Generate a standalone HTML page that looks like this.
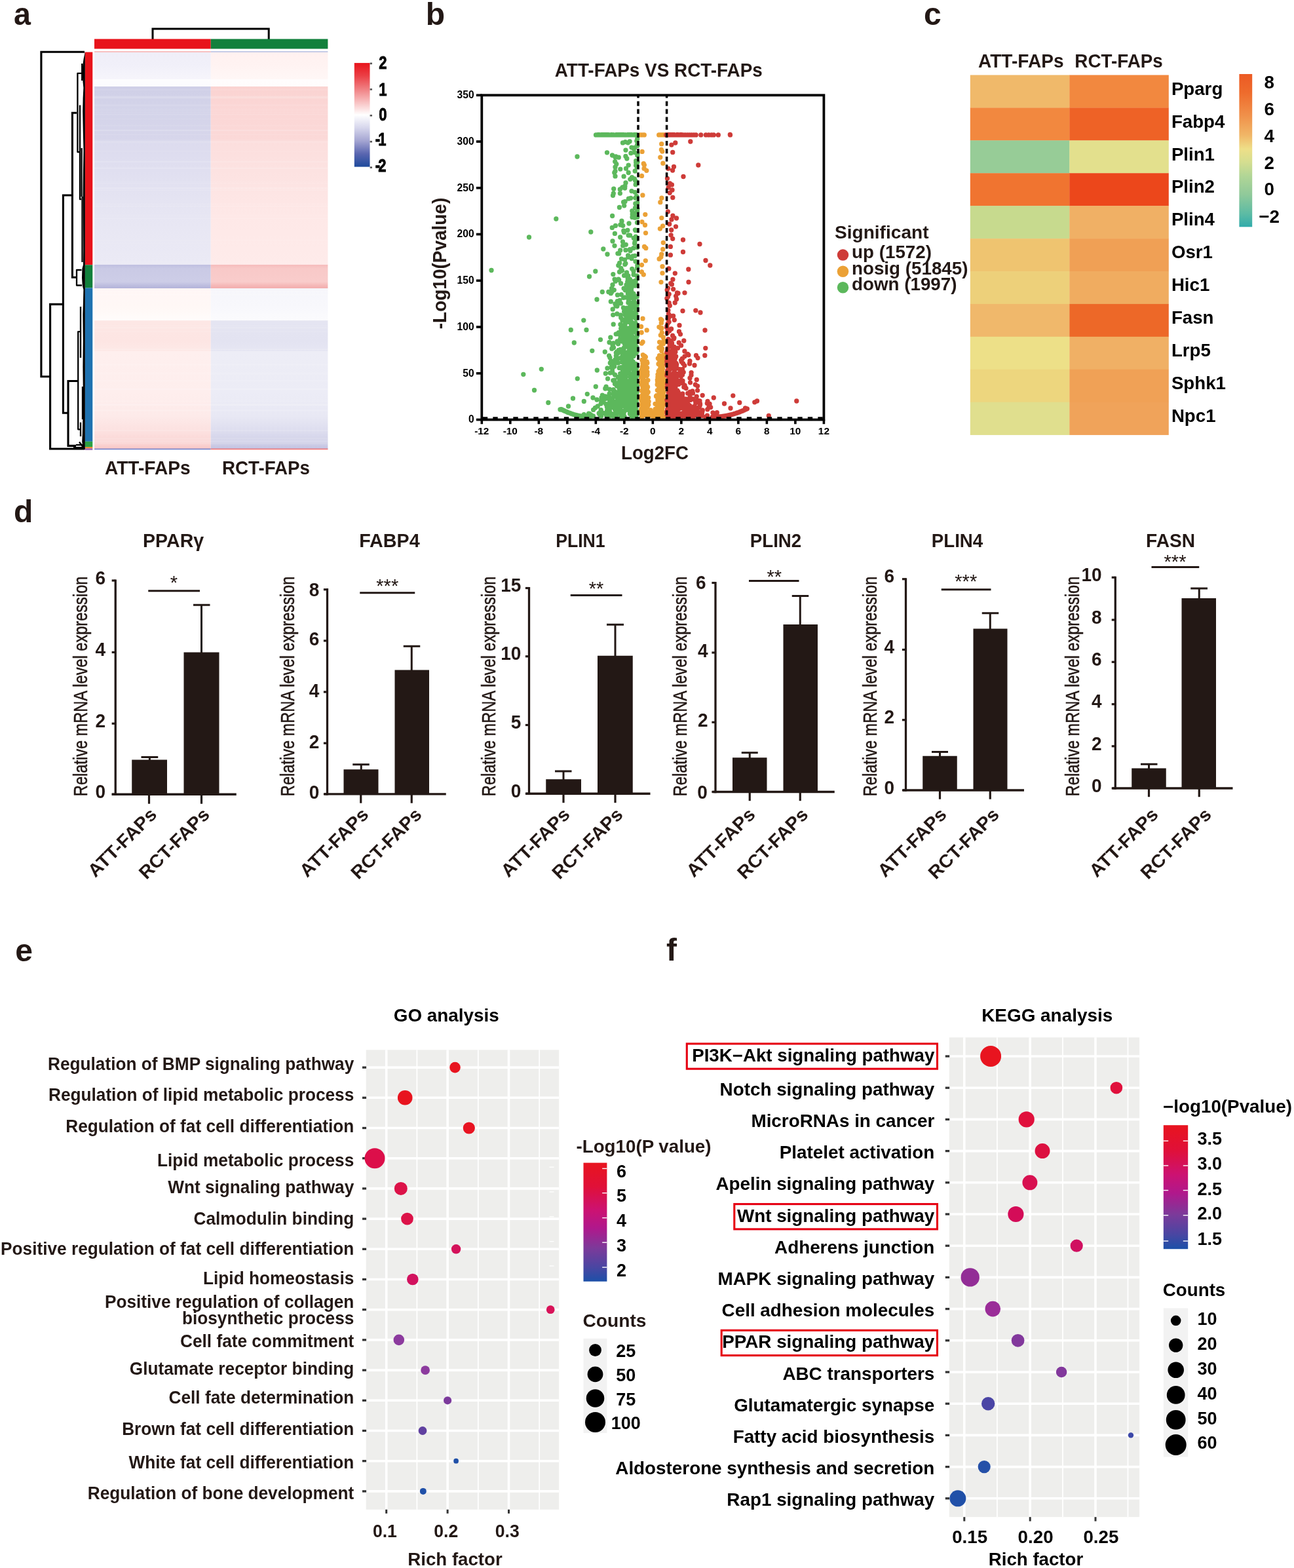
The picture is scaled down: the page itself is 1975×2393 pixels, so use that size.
<!DOCTYPE html>
<html lang="en"><head><meta charset="utf-8"><title>Figure</title>
<style>
html,body{margin:0;padding:0;background:#fff}
svg{display:block}
</style></head>
<body>
<svg width="1975" height="2393" viewBox="0 0 1975 2393" font-family="'Liberation Sans', sans-serif" font-weight="bold" fill="#231815" role="img" aria-label="Multi-panel figure: heat maps, volcano plot, qPCR bar charts, GO and KEGG enrichment bubble plots">
<defs><linearGradient id="ha" x1="0" y1="0" x2="0" y2="1"><stop offset="0.0000" stop-color="#efeef8"/><stop offset="0.0338" stop-color="#f1f0f9"/><stop offset="0.0680" stop-color="#f6f5fb"/><stop offset="0.0680" stop-color="#fdfdfe"/><stop offset="0.0868" stop-color="#fbfbfe"/><stop offset="0.0868" stop-color="#cfcfe7"/><stop offset="0.1328" stop-color="#d3d3e9"/><stop offset="0.2228" stop-color="#d7d6eb"/><stop offset="0.2244" stop-color="#dcdbee"/><stop offset="0.2979" stop-color="#e0dff0"/><stop offset="0.4134" stop-color="#e7e6f3"/><stop offset="0.5355" stop-color="#ebeaf5"/><stop offset="0.5355" stop-color="#bfbfe0"/><stop offset="0.5454" stop-color="#cacae5"/><stop offset="0.5784" stop-color="#cdcde7"/><stop offset="0.5883" stop-color="#bcbcde"/><stop offset="0.5941" stop-color="#b4b4da"/><stop offset="0.5941" stop-color="#fff6f5"/><stop offset="0.6444" stop-color="#fff8f6"/><stop offset="0.6757" stop-color="#fffcfb"/><stop offset="0.6757" stop-color="#fde7e5"/><stop offset="0.7269" stop-color="#fde5e3"/><stop offset="0.7533" stop-color="#fde9e7"/><stop offset="0.7533" stop-color="#feefee"/><stop offset="0.8589" stop-color="#feeeed"/><stop offset="0.9167" stop-color="#fdeae9"/><stop offset="0.9579" stop-color="#fce0df"/><stop offset="0.9876" stop-color="#fad3d2"/><stop offset="1.0000" stop-color="#f8c4c4"/></linearGradient><linearGradient id="hb" x1="0" y1="0" x2="0" y2="1"><stop offset="0.0000" stop-color="#fff1f0"/><stop offset="0.0338" stop-color="#fff3f2"/><stop offset="0.0680" stop-color="#fff7f6"/><stop offset="0.0680" stop-color="#fffdfd"/><stop offset="0.0868" stop-color="#fffcfc"/><stop offset="0.0868" stop-color="#fad3d1"/><stop offset="0.1328" stop-color="#fbd6d5"/><stop offset="0.2228" stop-color="#fbd9d8"/><stop offset="0.2244" stop-color="#fcdedd"/><stop offset="0.2979" stop-color="#fce2e1"/><stop offset="0.4134" stop-color="#fee8e7"/><stop offset="0.5355" stop-color="#feebea"/><stop offset="0.5355" stop-color="#f6bcbc"/><stop offset="0.5454" stop-color="#f8c9c8"/><stop offset="0.5784" stop-color="#f9cccb"/><stop offset="0.5883" stop-color="#f5b7b7"/><stop offset="0.5941" stop-color="#f3aeae"/><stop offset="0.5941" stop-color="#f6f6fb"/><stop offset="0.6444" stop-color="#f8f8fc"/><stop offset="0.6757" stop-color="#fbfbfd"/><stop offset="0.6757" stop-color="#e5e5f2"/><stop offset="0.7269" stop-color="#e3e3f1"/><stop offset="0.7533" stop-color="#e6e6f3"/><stop offset="0.7533" stop-color="#ededf6"/><stop offset="0.8589" stop-color="#ececf6"/><stop offset="0.9167" stop-color="#e8e8f4"/><stop offset="0.9579" stop-color="#dcdcee"/><stop offset="0.9876" stop-color="#cecee7"/><stop offset="1.0000" stop-color="#c0c0e0"/></linearGradient><linearGradient id="lega" x1="0" y1="0" x2="0" y2="1"><stop offset="0.0000" stop-color="#e8131b"/><stop offset="0.1250" stop-color="#eb4046"/><stop offset="0.2500" stop-color="#f07f82"/><stop offset="0.3750" stop-color="#f8bfc0"/><stop offset="0.5000" stop-color="#ffffff"/><stop offset="0.6250" stop-color="#d6d6ec"/><stop offset="0.7500" stop-color="#a4a5d2"/><stop offset="0.8750" stop-color="#5a66b0"/><stop offset="1.0000" stop-color="#1e4a9c"/></linearGradient><linearGradient id="legc" x1="0" y1="0" x2="0" y2="1"><stop offset="0.0000" stop-color="#ec5a24"/><stop offset="0.1200" stop-color="#ee6b2c"/><stop offset="0.2700" stop-color="#f0904a"/><stop offset="0.4000" stop-color="#f0b667"/><stop offset="0.4900" stop-color="#eedf88"/><stop offset="0.5750" stop-color="#d5de90"/><stop offset="0.6700" stop-color="#b0d596"/><stop offset="0.7900" stop-color="#8fc99a"/><stop offset="0.9150" stop-color="#5cbba4"/><stop offset="1.0000" stop-color="#30abab"/></linearGradient><linearGradient id="lege" x1="0" y1="0" x2="0" y2="1"><stop offset="0.0000" stop-color="#e8141f"/><stop offset="0.2000" stop-color="#e01038"/><stop offset="0.4000" stop-color="#cc1272"/><stop offset="0.5500" stop-color="#b0188c"/><stop offset="0.7200" stop-color="#7c3a9a"/><stop offset="0.8800" stop-color="#4a46a2"/><stop offset="1.0000" stop-color="#1c50a8"/></linearGradient><linearGradient id="legf" x1="0" y1="0" x2="0" y2="1"><stop offset="0.0000" stop-color="#e8141f"/><stop offset="0.2000" stop-color="#e01038"/><stop offset="0.4000" stop-color="#cc1272"/><stop offset="0.5500" stop-color="#b0188c"/><stop offset="0.7200" stop-color="#7c3a9a"/><stop offset="0.8800" stop-color="#4a46a2"/><stop offset="1.0000" stop-color="#1c50a8"/></linearGradient></defs>
<rect width="1975" height="2393" fill="#fff"/>
<g id="panel-a">
<text transform="translate(21.00 38.30) scale(0.96 1)" font-size="48.6">a</text>
<path d="M233 60V43.9H410.2V60" fill="none" stroke="#000" stroke-width="3"/>
<rect x="144.00" y="59.50" width="177.75" height="15.00" fill="#e8131b"/>
<rect x="321.75" y="59.50" width="178.65" height="15.00" fill="#12803c"/>
<rect x="144.00" y="79.50" width="177.75" height="606.00" fill="url(#ha)"/>
<rect x="321.75" y="79.50" width="178.65" height="606.00" fill="url(#hb)"/>
<rect x="144.00" y="78.30" width="177.75" height="1.30" fill="#f6a3a3"/>
<rect x="321.75" y="78.30" width="178.65" height="1.30" fill="#a9b3dc"/>
<rect x="144.00" y="684.60" width="177.75" height="1.60" fill="#6f80ca"/>
<rect x="321.75" y="684.60" width="178.65" height="1.60" fill="#f27474"/>
<rect x="144.00" y="310.81" width="356.40" height="1.30" fill="#ffffff" opacity="0.13"/>
<rect x="144.00" y="173.55" width="356.40" height="2.07" fill="#ffffff" opacity="0.10"/>
<rect x="144.00" y="165.67" width="356.40" height="2.01" fill="#ffffff" opacity="0.06"/>
<rect x="144.00" y="370.77" width="356.40" height="1.14" fill="#ffffff" opacity="0.07"/>
<rect x="144.00" y="365.79" width="356.40" height="2.65" fill="#ffffff" opacity="0.07"/>
<rect x="144.00" y="255.89" width="356.40" height="2.25" fill="#ffffff" opacity="0.15"/>
<rect x="144.00" y="449.10" width="356.40" height="1.79" fill="#ffffff" opacity="0.16"/>
<rect x="144.00" y="159.43" width="356.40" height="2.72" fill="#ffffff" opacity="0.09"/>
<rect x="144.00" y="212.76" width="356.40" height="1.24" fill="#ffffff" opacity="0.09"/>
<rect x="144.00" y="579.60" width="356.40" height="1.36" fill="#ffffff" opacity="0.12"/>
<rect x="144.00" y="482.85" width="356.40" height="1.74" fill="#ffffff" opacity="0.11"/>
<rect x="144.00" y="168.28" width="356.40" height="1.12" fill="#ffffff" opacity="0.08"/>
<rect x="144.00" y="505.50" width="356.40" height="1.86" fill="#ffffff" opacity="0.09"/>
<rect x="144.00" y="453.72" width="356.40" height="1.91" fill="#ffffff" opacity="0.09"/>
<rect x="144.00" y="567.73" width="356.40" height="2.40" fill="#ffffff" opacity="0.08"/>
<rect x="144.00" y="447.64" width="356.40" height="2.05" fill="#ffffff" opacity="0.15"/>
<rect x="144.00" y="532.28" width="356.40" height="1.58" fill="#ffffff" opacity="0.16"/>
<rect x="144.00" y="198.46" width="356.40" height="1.84" fill="#ffffff" opacity="0.14"/>
<rect x="144.00" y="216.98" width="356.40" height="1.98" fill="#ffffff" opacity="0.06"/>
<rect x="144.00" y="498.85" width="356.40" height="2.53" fill="#ffffff" opacity="0.12"/>
<rect x="144.00" y="612.01" width="356.40" height="1.63" fill="#ffffff" opacity="0.13"/>
<rect x="144.00" y="458.53" width="356.40" height="2.16" fill="#ffffff" opacity="0.11"/>
<rect x="144.00" y="592.62" width="356.40" height="2.89" fill="#ffffff" opacity="0.11"/>
<rect x="144.00" y="496.63" width="356.40" height="1.12" fill="#ffffff" opacity="0.13"/>
<rect x="144.00" y="487.33" width="356.40" height="2.99" fill="#ffffff" opacity="0.14"/>
<rect x="144.00" y="289.39" width="356.40" height="1.77" fill="#ffffff" opacity="0.13"/>
<rect x="144.00" y="146.32" width="356.40" height="1.92" fill="#ffffff" opacity="0.08"/>
<rect x="144.00" y="197.93" width="356.40" height="1.12" fill="#ffffff" opacity="0.14"/>
<rect x="144.00" y="204.62" width="356.40" height="1.50" fill="#ffffff" opacity="0.10"/>
<rect x="144.00" y="609.80" width="356.40" height="1.16" fill="#ffffff" opacity="0.10"/>
<rect x="144.00" y="616.33" width="356.40" height="2.64" fill="#ffffff" opacity="0.15"/>
<rect x="144.00" y="286.02" width="356.40" height="1.83" fill="#ffffff" opacity="0.10"/>
<rect x="144.00" y="616.77" width="356.40" height="2.92" fill="#ffffff" opacity="0.08"/>
<rect x="144.00" y="230.21" width="356.40" height="1.46" fill="#ffffff" opacity="0.08"/>
<rect x="144.00" y="398.79" width="356.40" height="2.18" fill="#ffffff" opacity="0.09"/>
<rect x="144.00" y="136.24" width="356.40" height="1.84" fill="#ffffff" opacity="0.10"/>
<rect x="144.00" y="443.22" width="356.40" height="2.91" fill="#ffffff" opacity="0.13"/>
<rect x="144.00" y="471.21" width="356.40" height="2.35" fill="#ffffff" opacity="0.07"/>
<rect x="144.00" y="625.15" width="356.40" height="2.56" fill="#ffffff" opacity="0.15"/>
<rect x="144.00" y="569.64" width="356.40" height="1.78" fill="#ffffff" opacity="0.10"/>
<rect x="144.00" y="190.53" width="356.40" height="2.27" fill="#ffffff" opacity="0.07"/>
<rect x="144.00" y="170.77" width="356.40" height="1.42" fill="#ffffff" opacity="0.08"/>
<rect x="144.00" y="319.67" width="356.40" height="1.11" fill="#ffffff" opacity="0.06"/>
<rect x="144.00" y="216.59" width="356.40" height="1.20" fill="#ffffff" opacity="0.10"/>
<rect x="144.00" y="147.92" width="356.40" height="2.75" fill="#ffffff" opacity="0.12"/>
<rect x="144.00" y="215.11" width="356.40" height="1.50" fill="#ffffff" opacity="0.09"/>
<rect x="144.00" y="332.83" width="356.40" height="1.25" fill="#ffffff" opacity="0.14"/>
<rect x="144.00" y="676.23" width="356.40" height="1.93" fill="#ffffff" opacity="0.11"/>
<rect x="144.00" y="180.89" width="356.40" height="1.20" fill="#ffffff" opacity="0.09"/>
<rect x="144.00" y="278.56" width="356.40" height="2.66" fill="#ffffff" opacity="0.08"/>
<rect x="144.00" y="146.61" width="356.40" height="2.90" fill="#ffffff" opacity="0.11"/>
<rect x="144.00" y="214.04" width="356.40" height="2.09" fill="#ffffff" opacity="0.06"/>
<rect x="144.00" y="668.26" width="356.40" height="2.73" fill="#ffffff" opacity="0.13"/>
<rect x="144.00" y="276.57" width="356.40" height="1.73" fill="#ffffff" opacity="0.08"/>
<rect x="144.00" y="555.48" width="356.40" height="2.07" fill="#ffffff" opacity="0.14"/>
<rect x="144.00" y="314.00" width="356.40" height="1.45" fill="#ffffff" opacity="0.14"/>
<rect x="144.00" y="671.77" width="356.40" height="2.71" fill="#ffffff" opacity="0.14"/>
<rect x="144.00" y="580.81" width="356.40" height="2.48" fill="#ffffff" opacity="0.08"/>
<rect x="144.00" y="328.14" width="356.40" height="1.06" fill="#ffffff" opacity="0.06"/>
<rect x="144.00" y="286.56" width="356.40" height="1.52" fill="#ffffff" opacity="0.13"/>
<rect x="144.00" y="656.26" width="356.40" height="1.89" fill="#ffffff" opacity="0.15"/>
<rect x="144.00" y="673.47" width="356.40" height="2.91" fill="#ffffff" opacity="0.10"/>
<rect x="144.00" y="254.37" width="356.40" height="1.45" fill="#ffffff" opacity="0.08"/>
<rect x="144.00" y="245.59" width="356.40" height="2.25" fill="#ffffff" opacity="0.15"/>
<rect x="144.00" y="592.88" width="356.40" height="1.96" fill="#ffffff" opacity="0.13"/>
<rect x="144.00" y="570.61" width="356.40" height="1.17" fill="#ffffff" opacity="0.13"/>
<rect x="129.60" y="79.50" width="11.70" height="324.80" fill="#e8131b"/>
<rect x="129.60" y="404.30" width="11.70" height="35.20" fill="#12803c"/>
<rect x="129.60" y="439.50" width="11.70" height="234.30" fill="#1f72b0"/>
<rect x="129.60" y="673.80" width="11.70" height="8.40" fill="#2ca043"/>
<rect x="129.60" y="682.20" width="11.70" height="2.10" fill="#f08020"/>
<rect x="129.60" y="684.30" width="11.70" height="2.50" fill="#9a62b0"/>
<g fill="none" stroke="#000" stroke-width="3.1" stroke-linejoin="miter">
<path d="M129 79.2H62.9V574.7H76.6"/>
<path d="M96.4 464.4H76.6V685H129"/>
<path d="M110.4 298H96.4V630.2H104"/>
<path d="M117 172.2H110.4V423.3H117"/>
<path d="M118.4 581.5H104V680.4H116"/>
</g>
<g fill="none" stroke="#000" stroke-width="2.3" stroke-linejoin="round">
<path d="M124.5 111.8H118.4V232H121.5"/>
<path d="M122 160.5V304.2H124"/>
<path d="M124.5 412H117V435.5H125"/>
<path d="M123 506.2H119.2V655.3H123"/>
<path d="M123 468V546"/>
<path d="M123 644.6V666"/>
<path d="M125.2 97V123"/>
<path d="M124.6 226V300"/>
<path d="M125.5 300V400"/>
<path d="M126 590V640"/>
<path d="M112 683H128"/>
<path d="M116 679H127"/>
<path d="M121 674.5L128 684"/>
</g>
<path d="M129.8 79 L127.6 90 126.2 100 125.6 112 126.4 124 127.4 134 126.6 150 126.2 170 126.8 200 127.5 230 127 260 126.6 300 127 340 127.2 380 127 404 125.4 410 125 424 125.8 436 127.4 442 127 460 126.4 480 126.8 520 126.4 560 126.8 600 126.3 640 125.8 662 125.2 674 126.4 682 129.8 686.5 Z" fill="#000"/>
<rect x="540.80" y="96.10" width="23.70" height="158.50" fill="url(#lega)"/>
<line x1="564.60" y1="96.90" x2="568.00" y2="96.90" stroke="#595757" stroke-width="2.6"/>
<text transform="translate(578.20 105.40) scale(0.78 1)" font-size="28.2" fill="#000" stroke="#000" stroke-width="0.9">2</text>
<line x1="564.60" y1="136.40" x2="568.00" y2="136.40" stroke="#595757" stroke-width="2.6"/>
<text transform="translate(578.20 145.60) scale(0.78 1)" font-size="28.2" fill="#000" stroke="#000" stroke-width="0.9">1</text>
<line x1="564.60" y1="176.30" x2="568.00" y2="176.30" stroke="#595757" stroke-width="2.6"/>
<text transform="translate(578.20 184.00) scale(0.78 1)" font-size="28.2" fill="#000" stroke="#000" stroke-width="0.9">0</text>
<line x1="564.60" y1="216.20" x2="568.00" y2="216.20" stroke="#595757" stroke-width="2.6"/>
<text transform="translate(572.70 222.30) scale(0.78 1)" font-size="28.2" fill="#000" stroke="#000" stroke-width="0.9">-<tspan dx="-3.6">1</tspan></text>
<line x1="564.60" y1="255.60" x2="568.00" y2="255.60" stroke="#595757" stroke-width="2.6"/>
<text transform="translate(572.70 261.60) scale(0.78 1)" font-size="28.2" fill="#000" stroke="#000" stroke-width="0.9">-<tspan dx="-3.6">2</tspan></text>
<text x="160.00" y="723.90" font-size="29.3" textLength="130.50" lengthAdjust="spacingAndGlyphs">ATT-FAPs</text>
<text x="339.00" y="723.90" font-size="29.3" textLength="134.00" lengthAdjust="spacingAndGlyphs">RCT-FAPs</text>
</g>
<g id="panel-b">
<text x="649.70" y="37.60" font-size="48">b</text>
<text x="1005.30" y="117.00" font-size="28.6" text-anchor="middle" textLength="317.00" lengthAdjust="spacingAndGlyphs">ATT-FAPs VS RCT-FAPs</text>
<path d="M986.3 633.5h0M992.1 634.1h0M983.5 633.7h0M979.7 635.1h0M992.1 633.7h0M980.1 636.0h0M982.5 632.9h0M979.7 633.3h0M994.3 633.9h0M984.7 633.3h0M990.5 628.9h0M991.8 630.4h0M984.6 630.8h0M992.4 631.7h0M985.6 629.2h0M980.2 629.3h0M994.2 628.9h0M984.9 632.3h0M981.7 628.5h0M979.2 630.6h0M978.6 624.9h0M979.5 625.9h0M981.9 628.2h0M979.1 627.1h0M982.9 626.7h0M983.4 627.2h0M993.0 627.4h0M992.9 626.0h0M980.2 625.6h0M980.2 621.3h0M988.4 620.1h0M986.2 622.8h0M979.7 622.6h0M983.6 623.2h0M984.5 620.5h0M980.1 621.6h0M984.1 622.7h0M986.6 621.1h0M984.1 619.6h0M986.7 618.3h0M980.9 619.8h0M989.7 617.8h0M980.0 616.0h0M979.4 617.9h0M981.6 619.5h0M980.1 618.5h0M988.9 613.4h0M990.1 612.8h0M985.6 614.2h0M987.8 612.7h0M982.1 611.7h0M980.4 614.9h0M986.8 612.7h0M979.9 612.2h0M979.0 611.3h0M980.7 609.5h0M982.4 610.0h0M987.5 607.3h0M980.7 610.0h0M978.7 609.4h0M981.3 609.3h0M989.1 607.0h0M979.2 604.4h0M989.7 606.8h0M979.0 606.7h0M985.7 603.3h0M985.1 606.6h0M980.9 606.5h0M981.7 600.5h0M988.1 599.9h0M982.5 601.1h0M984.5 601.9h0M982.7 598.9h0M981.4 600.5h0M985.1 602.5h0M979.1 596.3h0M986.0 597.0h0M989.3 598.3h0M987.4 594.7h0M981.3 597.4h0M982.8 598.4h0M983.7 597.9h0M982.9 593.3h0M983.1 591.3h0M988.6 590.5h0M981.5 590.4h0M986.1 591.3h0M980.8 590.5h0M985.6 587.9h0M979.4 586.9h0M985.7 588.1h0M981.8 586.7h0M985.6 588.9h0M985.1 588.1h0M981.0 587.4h0M986.9 585.8h0M978.7 584.9h0M980.6 585.7h0M984.8 586.0h0M978.6 584.3h0M980.9 585.1h0M982.3 580.2h0M986.9 581.2h0M988.2 580.6h0M981.8 577.9h0M980.0 579.3h0M988.9 580.3h0M979.0 574.1h0M980.2 576.2h0M982.0 574.6h0M987.0 573.6h0M978.6 575.7h0M987.3 573.5h0M979.3 570.4h0M984.7 569.9h0M986.6 569.7h0M984.8 569.9h0M983.1 569.4h0M988.0 572.0h0M981.3 566.0h0M981.1 567.0h0M979.7 567.4h0M978.7 565.8h0M987.9 567.7h0M980.2 565.1h0M982.9 560.8h0M987.7 561.3h0M986.7 561.1h0M980.0 562.7h0M980.1 560.8h0M985.5 563.7h0M986.1 560.2h0M982.9 558.4h0M981.2 560.0h0M984.4 556.4h0M980.5 559.3h0M984.0 552.9h0M982.0 552.2h0M980.9 554.9h0M982.1 552.8h0M987.9 554.0h0M982.6 548.0h0M979.8 549.4h0M984.6 551.3h0M981.5 550.5h0M987.2 551.8h0M984.1 549.8h0M985.4 544.8h0M981.3 541.7h0M983.9 543.3h0M979.4 524.0h0M981.1 522.0h0M979.1 507.5h0M987.2 503.9h0M978.6 498.5h0M981.0 486.2h0M982.3 419.1h0M979.4 414.9h0M979.5 404.3h0M985.3 397.8h0M985.8 378.7h0M983.5 376.4h0M985.5 355.6h0M984.5 343.5h0M979.9 338.6h0M984.8 327.3h0M980.9 297.9h0M979.5 268.4h0M986.8 260.3h0M983.1 257.2h0M983.4 251.8h0M982.3 249.7h0M980.1 231.4h0M999.4 636.8h0M996.9 636.1h0M1004.8 636.5h0M1010.4 633.9h0M1010.5 633.6h0M1006.5 636.3h0M999.6 634.0h0M1003.2 633.1h0M1012.8 636.1h0M1004.0 636.4h0M1008.2 635.9h0M996.5 630.1h0M1006.8 632.7h0M1004.6 628.7h0M997.8 629.5h0M1011.6 629.0h0M1012.3 629.0h0M1003.2 630.8h0M1008.6 631.6h0M1005.9 631.0h0M1003.3 631.0h0M1006.0 624.3h0M1000.1 624.4h0M1002.3 627.3h0M1010.5 626.2h0M1004.9 626.3h0M1008.1 625.1h0M1000.7 627.5h0M1010.4 628.5h0M1002.4 624.4h0M1010.1 620.5h0M1003.2 620.4h0M1011.1 622.4h0M1010.5 622.5h0M1010.5 624.2h0M1008.3 624.1h0M1009.6 622.1h0M1006.6 621.0h0M1012.1 619.0h0M1008.9 615.9h0M1004.4 616.3h0M1008.5 616.6h0M1003.9 619.6h0M1000.0 616.3h0M1001.0 616.1h0M1000.6 616.4h0M1008.2 612.1h0M1005.7 613.8h0M1012.9 613.3h0M1011.4 615.2h0M1011.1 612.2h0M1004.7 613.9h0M1009.4 613.5h0M1005.4 608.8h0M1012.3 610.7h0M1004.4 610.8h0M1010.3 609.7h0M1010.9 608.2h0M1007.0 609.1h0M1007.3 608.9h0M1003.8 610.2h0M1011.1 605.0h0M1002.2 603.6h0M1001.5 604.7h0M1004.2 606.5h0M1012.8 604.3h0M1004.9 606.3h0M1011.9 603.2h0M1012.5 599.2h0M1008.7 600.9h0M1009.9 600.2h0M1005.4 602.3h0M1005.2 602.4h0M1008.4 600.1h0M1010.4 601.4h0M1005.6 595.4h0M1004.9 596.2h0M1013.0 598.5h0M1010.9 595.1h0M1012.2 597.0h0M1003.3 595.6h0M1010.6 598.0h0M1006.5 594.3h0M1006.5 592.8h0M1008.8 591.6h0M1005.7 592.3h0M1012.7 591.6h0M1009.0 590.4h0M1010.0 594.3h0M1010.6 587.5h0M1003.2 587.0h0M1009.6 587.8h0M1007.2 586.1h0M1005.4 588.9h0M1010.8 588.7h0M1007.9 583.3h0M1012.9 584.6h0M1003.6 582.6h0M1012.7 582.2h0M1013.0 584.9h0M1004.1 582.5h0M1003.3 579.8h0M1005.3 577.9h0M1010.4 581.1h0M1004.3 578.8h0M1008.5 580.1h0M1009.3 581.1h0M1007.8 576.3h0M1003.9 575.6h0M1012.8 577.0h0M1005.5 577.4h0M1008.7 577.0h0M1005.2 575.4h0M1012.3 572.5h0M1011.5 572.1h0M1006.4 572.9h0M1004.3 572.6h0M1004.0 571.7h0M1010.3 571.7h0M1011.5 567.9h0M1008.8 564.9h0M1007.6 565.6h0M1005.0 566.7h0M1008.3 568.7h0M1008.7 564.9h0M1010.7 563.2h0M1006.6 564.5h0M1008.7 562.7h0M1010.3 563.1h0M1011.6 562.6h0M1011.3 559.1h0M1007.9 559.7h0M1011.0 559.5h0M1008.8 558.6h0M1008.6 560.4h0M1008.3 560.1h0M1008.4 554.0h0M1009.0 553.3h0M1010.4 556.0h0M1008.5 554.5h0M1005.0 555.5h0M1008.8 555.7h0M1007.9 550.4h0M1006.8 550.5h0M1012.6 551.0h0M1012.0 550.0h0M1011.4 548.0h0M1012.0 546.4h0M1012.9 544.0h0M1004.3 546.8h0M1012.9 544.4h0M1006.2 547.4h0M1005.1 547.4h0M1006.5 542.7h0M1012.7 541.7h0M1009.8 535.5h0M1010.5 531.8h0M1010.1 533.5h0M1008.2 529.2h0M1005.9 530.6h0M1012.3 524.7h0M1012.1 523.0h0M1013.1 520.0h0M1006.6 522.1h0M1012.3 514.7h0M1008.3 511.6h0M1010.3 507.6h0M1009.1 501.3h0M1010.0 500.7h0M1005.9 499.1h0M1009.3 492.9h0M1010.1 488.6h0M1008.5 487.2h0M1009.0 430.6h0M1011.0 416.8h0M1011.0 406.7h0M1006.1 395.2h0M1008.9 392.3h0M1009.7 387.9h0M1011.7 380.4h0M1012.3 370.3h0M1007.4 349.1h0M1011.6 344.8h0M1009.8 332.6h0M1007.8 308.7h0M1009.9 302.2h0M1011.9 249.2h0M1007.8 240.1h0M1010.8 231.1h0M1009.4 228.4h0M1009.7 219.7h0M977.2 205.9h0M979.4 205.9h0M981.6 205.9h0M983.3 205.9h0M1005.7 205.9h0M1007.2 205.9h0M1008.9 205.9h0M1010.7 205.9h0M1012.4 205.9h0M1014.2 205.9h0" fill="none" stroke="#eba136" stroke-width="7.3" stroke-linecap="round"/>
<path d="M948.5 205.9h0M933.6 205.9h0M951.6 205.9h0M921.8 205.9h0M950.7 205.9h0M933.2 205.9h0M936.4 205.9h0M941.2 205.9h0M918.6 205.9h0M946.7 205.9h0M912.2 205.9h0M963.1 205.9h0M946.9 205.9h0M923.9 205.9h0M954.4 205.9h0M948.1 205.9h0M925.6 205.9h0M967.6 205.9h0M918.1 205.9h0M936.8 205.9h0M960.9 205.9h0M968.6 205.9h0M948.1 205.9h0M942.0 205.9h0M911.3 205.9h0M922.2 205.9h0M962.6 205.9h0M958.6 205.9h0M915.2 205.9h0M956.9 205.9h0M957.9 205.9h0M970.2 205.9h0M971.4 205.9h0M958.1 205.9h0M949.3 205.9h0M926.0 205.9h0M940.6 205.9h0M933.8 205.9h0M939.9 205.9h0M920.3 205.9h0M956.9 205.9h0M929.1 205.9h0M947.2 205.9h0M946.4 205.9h0M920.5 205.9h0M966.7 205.9h0M964.1 205.9h0M954.6 205.9h0M952.1 205.9h0M917.1 205.9h0M942.8 205.9h0M968.5 205.9h0M909.5 205.9h0M915.1 205.9h0M963.9 205.9h0M922.3 205.9h0M971.9 205.9h0M948.4 205.9h0M961.4 205.9h0M926.4 205.9h0M969.5 205.9h0M913.2 205.9h0M959.5 205.9h0M933.3 205.9h0M926.9 205.9h0M970.7 205.9h0M945.2 205.9h0M964.6 205.9h0M944.4 205.9h0M949.8 205.9h0M968.8 205.9h0M943.2 205.9h0M919.3 205.9h0M960.9 205.9h0M920.2 205.9h0M940.4 205.9h0M913.7 205.9h0M921.3 205.9h0M960.6 205.9h0M926.8 205.9h0M951.8 205.9h0M918.3 205.9h0M934.8 205.9h0M931.3 205.9h0M917.8 205.9h0M913.7 205.9h0M923.6 205.9h0M964.0 205.9h0M944.6 205.9h0M923.8 205.9h0M949.9 205.9h0M929.2 205.9h0M913.8 205.9h0M921.4 205.9h0M927.7 205.9h0M952.1 634.1h0M970.1 632.4h0M969.6 634.0h0M949.9 635.8h0M965.2 635.5h0M947.9 636.0h0M970.9 634.3h0M953.0 635.6h0M939.7 635.6h0M939.0 632.5h0M969.8 633.9h0M963.9 632.8h0M964.6 635.9h0M970.3 635.5h0M941.2 632.9h0M950.8 632.5h0M968.5 628.3h0M947.1 628.5h0M966.9 628.8h0M963.1 632.2h0M952.2 629.8h0M972.3 632.1h0M948.3 631.5h0M962.0 631.9h0M971.7 629.5h0M972.2 630.3h0M970.2 631.8h0M961.4 631.4h0M943.0 628.5h0M951.1 630.5h0M962.1 631.1h0M961.9 631.4h0M964.3 626.9h0M969.1 625.7h0M967.5 625.4h0M953.2 626.9h0M963.2 627.3h0M959.6 624.0h0M947.1 624.4h0M971.0 624.9h0M945.6 625.7h0M944.5 623.9h0M961.4 627.7h0M967.2 625.2h0M954.2 625.8h0M955.3 625.7h0M943.2 624.6h0M945.4 622.2h0M958.1 620.9h0M968.4 623.2h0M964.2 623.4h0M961.2 619.9h0M966.4 619.8h0M960.7 622.9h0M944.0 621.7h0M969.0 622.4h0M953.3 619.9h0M961.6 623.7h0M960.9 621.5h0M946.7 621.4h0M962.0 619.7h0M959.7 619.6h0M953.5 619.0h0M970.1 618.0h0M965.8 619.1h0M969.1 617.7h0M955.9 616.4h0M943.7 616.7h0M953.9 618.0h0M964.3 618.2h0M964.8 618.8h0M947.4 616.8h0M949.4 617.3h0M970.6 619.4h0M949.2 619.3h0M941.7 619.1h0M969.6 611.8h0M971.1 611.2h0M964.6 612.4h0M968.0 614.0h0M957.4 611.8h0M949.9 614.6h0M948.2 611.6h0M967.8 613.4h0M971.2 614.0h0M958.2 613.7h0M947.3 611.5h0M952.4 615.1h0M967.3 612.7h0M961.8 612.2h0M943.1 610.2h0M945.8 610.3h0M961.7 609.4h0M958.7 609.9h0M963.1 609.7h0M969.7 611.0h0M952.4 609.7h0M964.2 610.5h0M970.3 609.5h0M959.6 610.7h0M947.5 607.9h0M970.3 606.9h0M966.0 610.8h0M971.8 606.6h0M954.5 603.1h0M971.4 603.5h0M962.3 604.7h0M946.0 604.3h0M948.8 603.2h0M970.1 604.2h0M963.2 605.7h0M951.5 605.5h0M972.2 604.8h0M950.7 605.2h0M964.8 606.3h0M958.9 603.9h0M958.3 606.6h0M954.1 598.9h0M967.4 599.4h0M969.3 600.0h0M956.5 600.0h0M950.4 600.2h0M954.9 598.9h0M966.0 601.2h0M949.7 600.0h0M948.3 600.7h0M972.0 599.0h0M948.0 601.4h0M962.1 598.5h0M968.8 600.9h0M970.1 601.3h0M949.7 598.2h0M955.2 595.8h0M961.1 597.9h0M950.9 596.6h0M963.4 595.4h0M945.3 594.6h0M956.7 597.7h0M945.8 596.2h0M965.3 596.6h0M953.1 598.0h0M969.7 597.8h0M954.8 594.7h0M951.3 597.9h0M956.5 589.9h0M971.9 591.9h0M969.7 593.4h0M953.1 590.6h0M962.1 593.1h0M959.2 591.0h0M944.9 590.5h0M950.3 593.0h0M954.3 591.7h0M959.8 591.6h0M961.4 592.5h0M965.1 593.6h0M971.2 590.5h0M959.4 593.7h0M970.7 585.7h0M958.3 588.1h0M958.2 587.5h0M950.5 587.5h0M962.3 585.8h0M947.1 589.1h0M972.4 589.2h0M967.9 587.5h0M954.7 586.3h0M957.5 589.7h0M957.8 588.0h0M964.1 588.6h0M964.5 589.1h0M948.9 584.2h0M955.8 583.4h0M951.0 583.8h0M946.7 582.0h0M970.4 585.2h0M949.9 583.3h0M970.0 585.1h0M964.1 582.6h0M962.6 584.6h0M967.6 585.2h0M960.9 582.7h0M949.5 582.0h0M964.1 580.3h0M954.3 577.6h0M946.6 577.5h0M948.6 580.4h0M967.7 578.8h0M960.8 581.2h0M965.8 578.0h0M969.3 580.7h0M964.1 579.9h0M952.8 579.0h0M947.5 581.0h0M948.0 578.5h0M966.4 580.4h0M972.3 573.5h0M953.9 574.2h0M961.7 574.8h0M968.8 573.5h0M955.0 576.3h0M964.0 573.2h0M963.3 574.0h0M968.7 573.5h0M970.7 575.5h0M963.0 575.9h0M954.4 573.3h0M963.9 574.4h0M958.3 568.9h0M965.6 570.7h0M966.7 571.9h0M949.6 572.3h0M967.1 572.1h0M961.6 572.4h0M969.9 570.5h0M970.1 569.1h0M958.1 569.2h0M970.3 569.5h0M970.3 572.5h0M970.6 569.4h0M951.8 565.7h0M968.3 567.6h0M950.3 568.5h0M960.1 566.2h0M967.6 566.3h0M971.0 565.0h0M954.1 567.3h0M969.7 565.4h0M972.2 568.5h0M950.3 566.2h0M970.2 567.5h0M957.5 568.3h0M971.8 560.5h0M954.3 563.4h0M966.2 562.7h0M958.6 563.0h0M967.9 562.2h0M961.5 562.4h0M959.4 560.7h0M961.3 561.5h0M948.0 560.7h0M961.0 560.6h0M971.7 560.7h0M969.8 556.6h0M960.1 556.4h0M967.4 556.2h0M959.2 558.7h0M968.3 556.0h0M966.4 559.4h0M952.3 558.8h0M959.7 556.4h0M964.5 557.3h0M970.7 559.6h0M958.1 556.7h0M966.1 552.0h0M970.5 555.3h0M959.5 552.8h0M955.3 554.9h0M954.1 551.8h0M960.8 555.1h0M959.1 552.0h0M959.3 553.6h0M957.7 552.0h0M955.1 554.3h0M963.6 552.2h0M949.6 552.7h0M959.9 550.4h0M963.1 550.2h0M956.8 550.9h0M962.3 551.6h0M954.1 547.8h0M962.6 547.6h0M954.4 550.1h0M957.4 550.6h0M962.6 549.7h0M956.9 549.1h0M963.6 547.8h0M951.7 549.0h0M964.3 543.3h0M963.2 546.8h0M953.7 546.4h0M955.1 546.2h0M962.3 544.9h0M960.1 544.1h0M960.6 544.6h0M952.5 546.6h0M954.8 545.9h0M967.1 543.4h0M963.0 544.2h0M950.6 545.3h0M953.7 542.1h0M970.6 539.2h0M964.6 539.5h0M955.5 539.0h0M955.1 541.1h0M956.5 542.7h0M961.9 540.2h0M950.0 542.5h0M968.6 539.7h0M965.1 540.4h0M950.0 539.6h0M948.8 537.4h0M969.3 534.9h0M967.5 536.6h0M971.2 537.9h0M971.8 537.1h0M968.9 535.8h0M972.1 536.7h0M970.3 534.9h0M958.5 537.3h0M958.7 537.6h0M960.4 534.9h0M970.2 534.5h0M970.9 532.5h0M967.1 530.7h0M962.5 531.9h0M952.0 534.3h0M962.4 533.8h0M959.8 530.9h0M963.2 531.9h0M965.2 532.5h0M965.9 533.0h0M952.1 531.1h0M953.4 529.8h0M969.6 530.2h0M966.4 530.4h0M969.4 528.6h0M961.1 528.8h0M967.0 527.5h0M962.3 527.0h0M968.0 530.0h0M961.1 528.7h0M971.4 529.3h0M966.9 528.2h0M962.0 524.0h0M971.0 522.4h0M959.5 526.2h0M956.0 524.6h0M967.0 524.0h0M960.5 525.7h0M966.0 522.4h0M953.5 525.1h0M968.5 523.2h0M968.4 525.7h0M965.2 522.0h0M958.6 521.3h0M963.6 518.5h0M961.0 521.6h0M954.5 518.8h0M955.1 520.9h0M960.3 518.6h0M965.6 517.8h0M954.8 518.5h0M963.5 519.4h0M958.6 519.4h0M950.3 521.2h0M960.6 513.9h0M958.7 515.8h0M971.4 514.4h0M964.9 517.5h0M967.3 516.8h0M963.8 515.5h0M949.9 514.9h0M961.1 516.0h0M971.0 515.5h0M960.6 514.2h0M958.3 514.1h0M959.5 512.0h0M972.4 511.4h0M972.3 512.7h0M955.3 512.1h0M972.0 509.8h0M972.3 510.2h0M962.5 509.2h0M964.7 513.0h0M951.6 510.1h0M962.6 509.9h0M959.6 511.2h0M953.0 505.3h0M953.9 509.0h0M960.9 506.3h0M952.1 506.5h0M963.5 509.1h0M969.8 506.9h0M959.4 505.1h0M971.0 505.7h0M969.6 506.5h0M967.4 506.1h0M970.8 507.4h0M964.0 504.2h0M953.0 501.8h0M963.7 501.7h0M956.3 500.9h0M969.5 503.8h0M959.8 500.8h0M967.7 497.2h0M954.7 499.8h0M972.1 499.8h0M967.9 498.4h0M962.2 499.9h0M965.9 497.3h0M970.1 493.1h0M954.3 494.3h0M953.8 494.6h0M969.3 493.3h0M963.0 494.0h0M964.1 491.6h0M954.3 489.1h0M954.2 489.4h0M960.4 491.4h0M957.9 488.1h0M957.3 485.8h0M963.3 486.1h0M970.5 486.3h0M963.2 484.7h0M955.5 486.4h0M966.3 483.1h0M957.3 479.8h0M966.0 479.9h0M961.2 480.9h0M966.7 479.8h0M962.2 476.4h0M970.9 479.4h0M969.7 478.1h0M969.3 478.4h0M965.9 477.2h0M971.4 472.0h0M956.2 472.5h0M970.2 472.6h0M962.8 471.8h0M957.5 474.3h0M970.7 467.1h0M968.0 470.0h0M961.6 467.8h0M956.6 470.1h0M969.8 467.1h0M967.6 464.8h0M972.4 463.4h0M972.0 466.6h0M963.5 465.7h0M963.7 462.8h0M966.1 462.3h0M959.4 458.6h0M967.8 459.8h0M960.0 459.8h0M958.9 461.9h0M960.1 455.2h0M968.7 454.5h0M964.8 454.4h0M967.0 456.3h0M968.3 454.3h0M970.1 451.9h0M972.0 453.2h0M967.9 452.2h0M960.4 452.7h0M965.1 452.9h0M964.5 447.2h0M958.4 447.9h0M961.9 446.3h0M966.9 448.1h0M964.1 446.9h0M963.4 442.0h0M960.3 443.2h0M962.0 443.2h0M963.9 444.8h0M959.0 440.1h0M961.2 438.9h0M960.4 438.7h0M963.9 439.6h0M962.9 434.5h0M968.0 433.8h0M971.4 434.1h0M969.5 436.1h0M959.2 429.7h0M966.8 429.3h0M969.7 430.5h0M962.4 432.7h0M961.4 426.2h0M938.1 426.2h0M944.7 427.3h0M958.2 425.5h0M970.6 428.0h0M943.9 426.2h0M958.8 420.8h0M972.2 420.9h0M952.6 420.4h0M967.1 419.2h0M956.5 415.9h0M935.8 418.6h0M967.0 414.0h0M949.5 413.0h0M945.5 415.0h0M947.9 409.5h0M972.6 409.0h0M964.7 410.3h0M943.8 405.1h0M953.8 403.4h0M972.8 405.1h0M954.9 402.1h0M970.0 398.9h0M945.6 401.4h0M964.0 394.6h0M948.5 395.1h0M953.6 396.3h0M969.0 390.4h0M965.7 390.9h0M958.8 392.3h0M958.6 389.8h0M944.7 386.9h0M942.9 386.8h0M946.7 382.0h0M954.9 381.7h0M962.0 382.8h0M961.3 380.7h0M972.6 377.6h0M966.8 378.7h0M955.3 373.3h0M938.0 375.1h0M950.7 374.9h0M968.6 371.4h0M968.8 369.8h0M950.5 369.0h0M935.0 368.0h0M970.2 365.5h0M971.3 365.1h0M967.2 363.3h0M970.3 361.1h0M946.7 362.0h0M961.5 359.2h0M959.1 359.0h0M938.4 356.4h0M952.5 354.4h0M951.8 352.2h0M969.4 350.8h0M957.9 351.3h0M970.1 351.7h0M939.4 344.4h0M950.7 344.3h0M934.3 347.4h0M946.8 343.1h0M972.5 339.7h0M960.0 341.0h0M949.0 337.9h0M948.9 337.1h0M965.0 331.4h0M972.7 331.4h0M968.9 332.2h0M965.2 326.9h0M966.7 328.3h0M934.6 329.5h0M968.6 325.7h0M972.6 322.4h0M972.9 318.8h0M964.8 322.0h0M972.7 318.9h0M952.7 313.8h0M969.4 317.4h0M945.4 316.5h0M972.7 309.4h0M969.8 310.7h0M951.6 308.4h0M954.0 307.6h0M969.8 302.1h0M962.7 302.3h0M959.4 303.2h0M971.6 299.3h0M935.5 298.3h0M969.2 293.3h0M936.3 295.2h0M946.4 295.1h0M946.3 288.9h0M964.0 291.6h0M950.0 285.8h0M953.7 287.0h0M936.7 288.2h0M953.9 283.9h0M970.1 281.7h0M971.4 277.7h0M955.0 279.0h0M969.6 275.6h0M961.8 273.6h0M968.4 273.0h0M952.1 269.2h0M939.0 268.9h0M964.5 270.6h0M937.8 263.5h0M959.2 263.5h0M939.0 261.2h0M969.2 261.0h0M971.9 254.3h0M955.5 257.2h0M946.8 258.1h0M970.6 252.5h0M940.8 250.5h0M959.2 252.1h0M972.9 247.5h0M938.7 246.6h0M970.7 248.1h0M956.8 242.0h0M970.7 245.3h0M954.9 238.4h0M939.2 240.1h0M944.3 240.2h0M962.9 233.7h0M972.8 237.2h0M972.9 234.5h0M968.6 232.6h0M968.5 232.6h0M955.0 229.1h0M964.0 225.1h0M967.2 226.7h0M968.7 225.4h0M972.5 221.1h0M972.8 222.4h0M950.5 217.9h0M958.4 217.8h0M954.4 216.7h0M972.7 211.9h0M971.8 215.1h0M961.1 215.8h0M930.5 634.2h0M905.4 634.8h0M927.1 632.5h0M915.3 632.4h0M936.4 635.2h0M901.9 633.2h0M891.3 632.7h0M930.3 635.3h0M917.7 635.0h0M936.1 634.5h0M892.0 633.8h0M925.5 633.7h0M928.7 628.7h0M916.0 629.4h0M931.3 630.4h0M938.5 631.0h0M898.6 631.2h0M932.5 631.1h0M920.9 630.4h0M916.0 630.4h0M930.0 628.4h0M914.2 630.7h0M899.6 631.5h0M930.5 627.4h0M917.2 625.7h0M938.4 624.8h0M926.6 626.9h0M939.6 627.0h0M927.2 624.0h0M929.6 624.7h0M930.4 624.9h0M927.0 623.9h0M905.6 625.4h0M939.4 620.8h0M912.2 620.0h0M908.4 622.4h0M940.1 622.1h0M934.1 621.3h0M931.5 619.9h0M937.6 619.7h0M926.3 620.8h0M931.7 622.4h0M929.4 616.0h0M924.7 616.6h0M936.3 616.5h0M935.2 617.6h0M926.7 618.2h0M928.7 616.7h0M917.2 616.0h0M936.2 619.0h0M942.4 613.8h0M917.7 611.9h0M930.1 614.8h0M935.2 611.9h0M920.2 613.3h0M935.6 613.7h0M942.0 614.7h0M942.0 608.1h0M934.5 607.9h0M923.2 609.0h0M927.6 607.3h0M929.4 609.1h0M923.4 607.7h0M942.1 610.2h0M936.8 605.2h0M942.5 606.3h0M923.7 605.0h0M930.1 606.7h0M928.2 605.2h0M919.4 603.1h0M920.5 604.3h0M941.0 602.2h0M936.5 602.0h0M930.1 601.0h0M937.7 601.5h0M937.9 601.4h0M942.9 598.8h0M936.6 597.1h0M938.1 597.4h0M936.2 594.6h0M930.4 594.2h0M944.5 590.9h0M924.3 593.0h0M925.1 590.1h0M938.4 585.8h0M940.0 586.8h0M941.5 588.9h0M945.6 582.0h0M944.4 583.9h0M940.9 585.3h0M927.6 577.9h0M935.8 580.6h0M937.9 580.1h0M943.3 575.3h0M944.9 576.9h0M945.9 574.6h0M946.7 570.2h0M938.6 572.0h0M931.2 569.1h0M933.9 568.5h0M934.7 567.4h0M932.8 560.8h0M945.2 561.5h0M934.6 562.9h0M937.6 559.2h0M933.7 558.3h0M938.0 553.7h0M931.3 554.0h0M943.4 553.9h0M932.7 551.1h0M940.4 547.5h0M938.9 548.9h0M945.1 546.8h0M930.9 545.8h0M947.0 546.7h0M942.8 539.2h0M929.6 542.8h0M940.3 543.1h0M941.4 536.8h0M946.2 535.4h0M940.3 538.4h0M944.2 534.4h0M933.8 532.2h0M946.8 533.3h0M935.1 526.9h0M935.5 529.9h0M936.5 530.4h0M935.8 523.9h0M943.5 524.8h0M936.4 523.8h0M947.2 518.7h0M942.1 520.9h0M946.7 520.7h0M948.8 516.6h0M931.8 514.9h0M946.7 516.8h0M946.6 511.6h0M940.2 509.8h0M941.6 509.6h0M944.1 507.7h0M947.9 505.3h0M948.8 508.5h0M947.7 501.5h0M948.4 504.4h0M951.4 498.9h0M949.5 498.7h0M946.9 495.2h0M936.2 494.9h0M949.9 488.9h0M951.9 488.7h0M947.7 484.8h0M950.8 488.0h0M954.2 480.6h0M947.2 481.0h0M935.7 480.6h0M952.6 475.5h0M941.8 479.0h0M935.2 472.0h0M953.1 474.4h0M941.9 467.3h0M951.5 469.7h0M940.0 466.9h0M947.5 462.9h0M938.9 463.7h0M940.9 465.8h0M945.8 458.3h0M942.3 459.7h0M932.3 460.2h0M951.7 454.3h0M951.7 454.1h0M942.5 450.2h0M953.7 453.9h0M948.3 449.6h0M932.3 447.7h0M933.7 445.6h0M954.3 442.8h0M937.3 442.6h0M933.6 440.1h0M952.1 440.1h0M956.0 434.6h0M935.0 434.7h0M947.6 432.5h0M939.2 429.2h0M957.7 430.0h0M900.3 636.5h0M899.3 636.5h0M898.3 636.4h0M897.3 636.4h0M896.2 636.3h0M895.2 636.2h0M894.2 636.2h0M893.2 636.1h0M892.2 635.9h0M891.2 635.8h0M890.2 635.7h0M889.2 635.5h0M888.2 635.4h0M887.1 635.2h0M886.1 635.0h0M885.1 634.8h0M884.1 634.6h0M883.1 634.4h0M882.1 634.2h0M881.1 633.9h0M880.1 633.7h0M879.1 633.4h0M878.1 633.1h0M877.0 632.9h0M876.0 632.6h0M875.0 632.3h0M874.0 631.9h0M873.0 631.6h0M872.0 631.3h0M871.0 630.9h0M870.0 630.5h0M869.0 630.1h0M867.9 629.8h0M866.9 629.4h0M865.9 628.9h0M864.9 628.5h0M863.9 628.1h0M862.9 627.6h0M861.9 627.2h0M860.9 626.7h0M859.9 626.2h0M858.8 625.7h0M857.8 625.2h0M856.8 624.7h0M750.0 412.5h0M807.5 362.0h0M848.8 334.0h0M881.0 239.0h0M901.8 354.0h0M908.8 414.0h0M899.5 422.0h0M890.8 488.8h0M871.3 503.5h0M895.0 503.5h0M876.3 523.0h0M911.0 457.0h0M919.3 445.5h0M928.8 445.5h0M920.8 380.0h0M927.0 388.0h0M926.5 232.8h0M934.5 237.0h0M940.0 239.0h0M939.0 255.0h0M916.5 518.3h0M903.8 535.3h0M923.3 537.0h0M930.0 522.5h0M826.3 563.3h0M798.8 571.3h0M815.5 595.5h0M881.3 577.8h0M911.3 565.0h0M927.0 562.0h0M924.3 570.0h0M909.3 590.0h0M923.8 593.0h0M896.3 601.3h0M874.5 608.0h0M836.8 614.5h0M855.0 625.0h0M867.5 620.0h0M891.3 612.5h0M905.0 607.0h0M911.0 610.0h0M918.0 607.0h0" fill="none" stroke="#5cb85c" stroke-width="7.3" stroke-linecap="round"/>
<path d="M1041.0 205.9h0M1040.0 205.9h0M1037.9 205.9h0M1034.4 205.9h0M1033.8 205.9h0M1033.4 205.9h0M1026.3 205.9h0M1019.8 205.9h0M1019.7 205.9h0M1023.2 205.9h0M1023.8 205.9h0M1034.8 205.9h0M1028.9 205.9h0M1029.5 205.9h0M1020.2 205.9h0M1027.6 205.9h0M1018.7 205.9h0M1021.2 205.9h0M1038.6 205.9h0M1024.8 205.9h0M1016.8 205.9h0M1023.8 205.9h0M1033.5 205.9h0M1039.1 205.9h0M1027.9 205.9h0M1033.2 205.9h0M1039.8 205.9h0M1026.0 205.9h0M1022.0 205.9h0M1036.6 205.9h0M1032.6 205.9h0M1029.7 205.9h0M1025.8 205.9h0M1033.6 205.9h0M1033.2 205.9h0M1040.2 205.9h0M1021.5 205.9h0M1033.1 205.9h0M1019.7 205.9h0M1034.7 205.9h0M1042.6 205.9h0M1045.9 205.9h0M1049.1 205.9h0M1052.4 205.9h0M1055.7 205.9h0M1058.9 205.9h0M1062.2 205.9h0M1069.8 205.9h0M1077.4 205.9h0M1081.7 205.9h0M1086.1 205.9h0M1089.3 205.9h0M1096.3 205.9h0M1114.5 205.9h0M1060.7 633.5h0M1045.6 635.5h0M1058.5 636.1h0M1053.4 633.9h0M1023.5 635.5h0M1018.3 632.8h0M1026.0 634.1h0M1020.0 634.6h0M1029.0 636.5h0M1038.7 633.5h0M1043.4 633.0h0M1054.8 635.1h0M1033.2 636.4h0M1053.8 635.8h0M1066.2 632.9h0M1056.2 635.9h0M1040.5 635.6h0M1056.6 635.0h0M1047.2 636.2h0M1041.1 633.2h0M1032.6 633.4h0M1040.5 633.9h0M1071.1 634.4h0M1051.5 636.1h0M1052.9 634.4h0M1069.0 634.7h0M1051.9 636.0h0M1065.7 628.7h0M1018.1 630.6h0M1023.8 629.9h0M1024.8 629.9h0M1026.2 630.4h0M1017.9 629.0h0M1034.4 630.0h0M1038.1 630.8h0M1049.6 628.3h0M1042.8 631.2h0M1019.1 629.0h0M1050.4 630.0h0M1026.9 631.7h0M1029.6 628.2h0M1053.3 628.8h0M1037.1 630.9h0M1048.6 630.4h0M1050.6 629.0h0M1063.9 631.4h0M1059.5 629.9h0M1020.0 630.9h0M1055.3 628.6h0M1041.8 631.5h0M1067.5 632.0h0M1042.9 630.1h0M1018.5 625.2h0M1022.5 627.1h0M1045.6 626.4h0M1034.7 626.2h0M1054.7 626.3h0M1022.2 623.8h0M1048.3 626.4h0M1059.8 625.5h0M1060.7 626.2h0M1053.5 625.7h0M1028.6 626.2h0M1048.4 627.0h0M1020.8 627.6h0M1024.7 626.9h0M1024.1 623.8h0M1046.4 627.5h0M1022.7 624.3h0M1044.8 627.3h0M1054.2 624.5h0M1034.1 626.3h0M1035.1 624.2h0M1029.7 625.7h0M1049.9 625.3h0M1048.3 622.0h0M1020.3 622.6h0M1036.8 623.6h0M1030.3 620.5h0M1024.0 622.9h0M1021.7 621.0h0M1020.5 622.6h0M1037.8 622.9h0M1045.1 619.7h0M1054.4 622.6h0M1025.1 620.8h0M1029.5 621.3h0M1030.5 621.0h0M1040.2 622.4h0M1041.2 622.5h0M1026.7 620.9h0M1042.4 623.3h0M1054.6 621.3h0M1035.3 620.3h0M1030.7 622.9h0M1022.5 622.0h0M1048.1 616.2h0M1032.1 617.6h0M1027.9 617.1h0M1041.4 619.4h0M1033.8 616.6h0M1019.9 617.6h0M1037.6 618.5h0M1037.7 617.8h0M1042.4 615.8h0M1025.8 615.7h0M1019.1 618.7h0M1028.6 619.1h0M1026.7 617.2h0M1049.7 618.2h0M1053.1 619.5h0M1049.5 615.6h0M1052.0 618.3h0M1018.3 617.1h0M1019.5 614.1h0M1033.6 613.9h0M1043.9 613.3h0M1030.1 612.6h0M1026.9 614.4h0M1022.9 611.1h0M1023.3 611.1h0M1025.5 611.4h0M1023.7 611.7h0M1029.1 614.7h0M1024.4 615.1h0M1036.8 613.2h0M1040.4 612.9h0M1033.4 613.9h0M1038.5 613.7h0M1020.2 610.0h0M1034.6 609.8h0M1022.5 607.0h0M1039.3 609.0h0M1024.7 610.2h0M1018.0 610.5h0M1040.3 610.3h0M1023.8 609.7h0M1033.1 607.6h0M1034.0 608.3h0M1034.5 610.4h0M1031.9 609.3h0M1020.4 611.0h0M1022.3 604.5h0M1027.4 604.2h0M1031.6 606.6h0M1033.2 604.3h0M1022.7 605.2h0M1029.6 605.4h0M1030.5 605.6h0M1027.0 604.1h0M1035.8 604.5h0M1030.6 605.8h0M1020.8 602.7h0M1020.3 599.8h0M1034.8 600.7h0M1034.5 600.0h0M1034.2 602.5h0M1026.2 598.8h0M1030.5 602.1h0M1027.3 599.6h0M1032.6 600.7h0M1028.9 602.4h0M1029.6 600.4h0M1026.2 596.8h0M1026.0 596.1h0M1029.8 597.6h0M1026.7 598.3h0M1035.2 598.2h0M1023.0 595.3h0M1027.6 594.9h0M1023.9 594.2h0M1028.3 597.0h0M1033.8 595.9h0M1018.4 591.6h0M1018.3 590.8h0M1020.1 592.0h0M1027.7 590.1h0M1019.6 592.9h0M1020.0 594.0h0M1030.9 590.7h0M1021.3 593.5h0M1024.1 593.3h0M1027.9 587.7h0M1035.9 586.6h0M1022.5 588.1h0M1027.9 588.5h0M1018.5 585.8h0M1025.8 585.6h0M1024.3 586.2h0M1018.7 586.3h0M1025.4 589.5h0M1025.1 583.4h0M1019.1 584.8h0M1031.9 583.3h0M1027.6 583.2h0M1022.4 581.9h0M1034.6 583.1h0M1031.5 584.1h0M1033.5 584.3h0M1020.1 579.5h0M1034.1 580.6h0M1025.5 577.7h0M1027.9 579.1h0M1029.0 579.4h0M1025.4 577.6h0M1021.3 578.5h0M1024.7 581.2h0M1033.6 574.3h0M1021.7 574.3h0M1025.0 575.7h0M1027.8 574.7h0M1025.6 574.5h0M1021.1 576.2h0M1022.6 574.2h0M1029.5 575.6h0M1018.3 570.5h0M1017.9 572.7h0M1023.7 571.3h0M1022.5 571.5h0M1027.5 570.8h0M1032.1 570.5h0M1026.6 572.6h0M1027.6 569.9h0M1020.9 565.8h0M1018.8 566.1h0M1021.9 564.6h0M1018.9 565.2h0M1029.2 566.3h0M1018.9 566.4h0M1019.6 567.3h0M1022.7 560.5h0M1028.5 560.4h0M1031.1 563.1h0M1027.4 560.4h0M1028.7 563.4h0M1028.3 560.8h0M1021.7 564.4h0M1018.7 558.2h0M1017.7 555.9h0M1025.5 558.7h0M1021.2 558.9h0M1025.3 558.0h0M1031.4 556.4h0M1021.3 557.9h0M1024.3 556.6h0M1028.9 555.3h0M1024.8 552.8h0M1030.0 551.9h0M1023.8 553.3h0M1022.0 553.4h0M1030.8 555.7h0M1031.9 554.7h0M1019.8 548.4h0M1020.2 550.8h0M1022.4 548.0h0M1025.2 550.9h0M1017.9 551.2h0M1025.6 547.5h0M1023.4 549.8h0M1028.3 546.5h0M1017.7 546.0h0M1025.7 547.2h0M1030.4 547.1h0M1030.2 543.4h0M1024.6 545.0h0M1026.6 547.4h0M1020.1 539.7h0M1029.3 541.9h0M1020.7 541.9h0M1026.0 541.0h0M1022.3 541.8h0M1027.0 540.3h0M1021.5 541.6h0M1019.9 536.0h0M1030.4 535.7h0M1029.0 537.3h0M1020.1 538.6h0M1026.0 535.1h0M1019.1 538.2h0M1017.8 537.7h0M1019.1 531.8h0M1018.8 533.8h0M1029.0 529.5h0M1024.2 528.6h0M1022.0 525.7h0M1021.9 524.7h0M1025.6 523.8h0M1020.4 519.2h0M1023.3 519.8h0M1028.4 517.1h0M1020.1 517.6h0M1026.6 512.2h0M1026.6 512.6h0M1019.0 505.8h0M1018.4 508.2h0M1021.7 504.9h0M1024.6 502.0h0M1017.9 497.7h0M1017.7 499.8h0M1019.3 493.3h0M1021.1 491.3h0M1019.1 486.3h0M1020.4 485.9h0M1023.9 482.1h0M1020.5 479.5h0M1019.9 473.7h0M1022.3 466.5h0M1021.1 462.2h0M1017.9 455.4h0M1019.6 452.8h0M1021.2 448.8h0M1018.2 442.6h0M1019.4 439.7h0M1025.4 434.0h0M1023.8 432.4h0M1026.9 426.4h0M1020.8 409.9h0M1023.4 389.2h0M1023.4 376.4h0M1026.7 364.3h0M1024.1 358.8h0M1024.7 351.0h0M1021.7 342.0h0M1019.4 323.0h0M1022.2 294.3h0M1020.2 286.2h0M1025.4 281.9h0M1022.4 279.8h0M1018.5 272.3h0M1019.8 257.2h0M1024.9 221.1h0M1076.9 636.4h0M1090.5 633.3h0M1079.4 634.2h0M1094.0 635.4h0M1069.0 631.2h0M1088.0 629.8h0M1071.8 628.3h0M1094.3 629.7h0M1071.4 631.4h0M1071.9 625.8h0M1065.0 628.0h0M1072.3 626.2h0M1079.8 624.8h0M1060.1 619.8h0M1081.8 621.6h0M1062.7 623.2h0M1066.6 621.8h0M1084.7 621.6h0M1079.3 615.6h0M1068.5 615.8h0M1068.6 617.4h0M1083.1 616.3h0M1068.1 619.3h0M1061.6 612.4h0M1068.0 612.0h0M1061.8 615.0h0M1066.1 611.4h0M1063.4 612.5h0M1057.5 609.0h0M1064.2 611.0h0M1049.5 609.7h0M1046.8 608.8h0M1053.6 610.4h0M1039.6 605.8h0M1063.2 605.1h0M1072.2 603.3h0M1039.0 605.9h0M1053.0 605.8h0M1041.4 604.9h0M1054.5 600.4h0M1052.8 599.1h0M1053.4 599.1h0M1049.8 600.2h0M1041.8 600.9h0M1056.9 597.0h0M1064.6 595.8h0M1053.1 598.1h0M1046.1 591.4h0M1043.8 590.7h0M1047.1 592.6h0M1045.1 588.2h0M1064.6 589.1h0M1042.2 585.1h0M1053.5 583.8h0M1042.0 581.2h0M1063.3 579.4h0M1039.6 580.3h0M1053.0 576.9h0M1039.7 574.0h0M1038.2 573.2h0M1055.1 568.6h0M1041.6 572.1h0M1037.9 567.9h0M1043.2 568.1h0M1039.8 566.5h0M1033.2 562.0h0M1037.7 563.6h0M1041.6 563.7h0M1032.7 556.1h0M1044.8 557.8h0M1032.6 556.9h0M1040.1 552.1h0M1031.9 554.3h0M1042.5 554.7h0M1052.9 551.0h0M1039.6 549.8h0M1041.5 547.2h0M1031.7 543.9h0M1049.6 540.4h0M1050.9 541.8h0M1044.9 536.0h0M1030.9 536.9h0M1034.5 531.2h0M1039.6 527.2h0M1036.2 523.0h0M1028.9 515.7h0M1038.5 510.1h0M1036.5 506.0h0M1037.0 496.4h0M1029.3 488.3h0M1027.6 482.2h0M1030.2 462.0h0M1032.6 456.5h0M1031.6 451.8h0M1033.5 447.0h0M1027.6 441.3h0M1030.3 417.1h0M1031.5 345.8h0M1026.9 329.2h0M1026.8 301.5h0M1026.6 260.0h0M1028.5 254.4h0M1026.7 232.4h0M1087.2 636.5h0M1088.3 636.5h0M1089.3 636.5h0M1090.4 636.5h0M1091.5 636.5h0M1092.6 636.4h0M1093.7 636.3h0M1094.8 636.3h0M1095.9 636.2h0M1096.9 636.1h0M1098.0 636.0h0M1099.1 635.9h0M1100.2 635.8h0M1101.3 635.6h0M1102.4 635.5h0M1103.5 635.3h0M1104.5 635.2h0M1105.6 635.0h0M1106.7 634.8h0M1107.8 634.6h0M1108.9 634.4h0M1110.0 634.2h0M1111.1 634.0h0M1112.2 633.7h0M1113.2 633.5h0M1114.3 633.2h0M1115.4 633.0h0M1116.5 632.7h0M1117.6 632.4h0M1118.7 632.1h0M1119.8 631.8h0M1120.8 631.4h0M1121.9 631.1h0M1123.0 630.8h0M1124.1 630.4h0M1125.2 630.0h0M1126.3 629.7h0M1127.4 629.3h0M1128.5 628.9h0M1129.5 628.5h0M1130.6 628.0h0M1131.7 627.6h0M1132.8 627.2h0M1133.9 626.7h0M1135.0 626.3h0M1136.1 625.8h0M1137.1 625.3h0M1138.2 624.8h0M1139.3 624.3h0M1140.4 623.8h0M1114.3 205.5h0M1053.8 216.0h0M1030.8 218.0h0M1065.8 252.0h0M1043.0 269.5h0M1026.0 290.0h0M1032.5 333.0h0M1025.0 335.0h0M1042.5 366.0h0M1068.0 372.5h0M1042.5 384.5h0M1077.0 397.5h0M1083.8 405.0h0M1050.8 411.0h0M1051.0 430.5h0M1045.0 446.8h0M1035.0 447.5h0M1061.8 473.8h0M1069.0 477.0h0M1042.0 474.5h0M1076.0 504.0h0M1043.8 520.0h0M1118.8 603.8h0M1105.5 616.0h0M1128.8 614.5h0M1115.0 623.0h0M1137.5 623.0h0M1151.8 613.8h0M1155.5 612.0h0M1215.8 612.0h0M1173.3 634.5h0M1076.8 531.3h0M1075.8 542.5h0M1062.5 542.5h0M1065.0 546.3h0M1045.0 543.8h0M1052.5 555.0h0M1060.0 557.5h0M1055.0 572.5h0M1061.3 587.0h0M1057.5 600.0h0M1089.3 607.0h0M1080.0 612.5h0" fill="none" stroke="#ce3b38" stroke-width="7.3" stroke-linecap="round"/>
<line x1="974.00" y1="145.30" x2="974.00" y2="640.50" stroke="#000" stroke-width="3.5" stroke-dasharray="7.3 4.8" stroke-dashoffset="3"/>
<line x1="1017.60" y1="145.30" x2="1017.60" y2="640.50" stroke="#000" stroke-width="3.5" stroke-dasharray="7.3 4.8" stroke-dashoffset="3"/>
<line x1="736.80" y1="638.00" x2="1257.40" y2="638.00" stroke="#000" stroke-width="3.4" stroke-dasharray="7.4 8.1"/>
<rect x="735.3" y="145.3" width="522.10" height="495.20" fill="none" stroke="#000" stroke-width="3.8"/>
<line x1="726.90" y1="640.50" x2="735.30" y2="640.50" stroke="#000" stroke-width="3.7"/>
<text x="723.60" y="645.40" font-size="15.6" text-anchor="end" fill="#000">0</text>
<line x1="726.90" y1="569.76" x2="735.30" y2="569.76" stroke="#000" stroke-width="3.7"/>
<text x="723.60" y="574.66" font-size="15.6" text-anchor="end" fill="#000">50</text>
<line x1="726.90" y1="499.01" x2="735.30" y2="499.01" stroke="#000" stroke-width="3.7"/>
<text x="723.60" y="503.91" font-size="15.6" text-anchor="end" fill="#000">100</text>
<line x1="726.90" y1="428.27" x2="735.30" y2="428.27" stroke="#000" stroke-width="3.7"/>
<text x="723.60" y="433.17" font-size="15.6" text-anchor="end" fill="#000">150</text>
<line x1="726.90" y1="357.53" x2="735.30" y2="357.53" stroke="#000" stroke-width="3.7"/>
<text x="723.60" y="362.43" font-size="15.6" text-anchor="end" fill="#000">200</text>
<line x1="726.90" y1="286.79" x2="735.30" y2="286.79" stroke="#000" stroke-width="3.7"/>
<text x="723.60" y="291.69" font-size="15.6" text-anchor="end" fill="#000">250</text>
<line x1="726.90" y1="216.04" x2="735.30" y2="216.04" stroke="#000" stroke-width="3.7"/>
<text x="723.60" y="220.94" font-size="15.6" text-anchor="end" fill="#000">300</text>
<line x1="726.90" y1="145.30" x2="735.30" y2="145.30" stroke="#000" stroke-width="3.7"/>
<text x="723.60" y="150.20" font-size="15.6" text-anchor="end" fill="#000">350</text>
<line x1="735.30" y1="640.50" x2="735.30" y2="647.20" stroke="#000" stroke-width="3.6"/>
<text x="735.30" y="662.90" font-size="15.4" text-anchor="middle" fill="#000">-12</text>
<line x1="778.81" y1="640.50" x2="778.81" y2="647.20" stroke="#000" stroke-width="3.6"/>
<text x="778.81" y="662.90" font-size="15.4" text-anchor="middle" fill="#000">-10</text>
<line x1="822.32" y1="640.50" x2="822.32" y2="647.20" stroke="#000" stroke-width="3.6"/>
<text x="822.32" y="662.90" font-size="15.4" text-anchor="middle" fill="#000">-8</text>
<line x1="865.83" y1="640.50" x2="865.83" y2="647.20" stroke="#000" stroke-width="3.6"/>
<text x="865.83" y="662.90" font-size="15.4" text-anchor="middle" fill="#000">-6</text>
<line x1="909.33" y1="640.50" x2="909.33" y2="647.20" stroke="#000" stroke-width="3.6"/>
<text x="909.33" y="662.90" font-size="15.4" text-anchor="middle" fill="#000">-4</text>
<line x1="952.84" y1="640.50" x2="952.84" y2="647.20" stroke="#000" stroke-width="3.6"/>
<text x="952.84" y="662.90" font-size="15.4" text-anchor="middle" fill="#000">-2</text>
<line x1="996.35" y1="640.50" x2="996.35" y2="647.20" stroke="#000" stroke-width="3.6"/>
<text x="996.35" y="662.90" font-size="15.4" text-anchor="middle" fill="#000">0</text>
<line x1="1039.86" y1="640.50" x2="1039.86" y2="647.20" stroke="#000" stroke-width="3.6"/>
<text x="1039.86" y="662.90" font-size="15.4" text-anchor="middle" fill="#000">2</text>
<line x1="1083.37" y1="640.50" x2="1083.37" y2="647.20" stroke="#000" stroke-width="3.6"/>
<text x="1083.37" y="662.90" font-size="15.4" text-anchor="middle" fill="#000">4</text>
<line x1="1126.88" y1="640.50" x2="1126.88" y2="647.20" stroke="#000" stroke-width="3.6"/>
<text x="1126.88" y="662.90" font-size="15.4" text-anchor="middle" fill="#000">6</text>
<line x1="1170.38" y1="640.50" x2="1170.38" y2="647.20" stroke="#000" stroke-width="3.6"/>
<text x="1170.38" y="662.90" font-size="15.4" text-anchor="middle" fill="#000">8</text>
<line x1="1213.89" y1="640.50" x2="1213.89" y2="647.20" stroke="#000" stroke-width="3.6"/>
<text x="1213.89" y="662.90" font-size="15.4" text-anchor="middle" fill="#000">10</text>
<line x1="1257.40" y1="640.50" x2="1257.40" y2="647.20" stroke="#000" stroke-width="3.6"/>
<text x="1257.40" y="662.90" font-size="15.4" text-anchor="middle" fill="#000">12</text>
<text x="999.50" y="700.60" font-size="28.6" text-anchor="middle" textLength="103.00" lengthAdjust="spacingAndGlyphs">Log2FC</text>
<text x="680.50" y="402.00" font-size="28.6" text-anchor="middle" transform="rotate(-90 680.50 402.00)" textLength="200.50" lengthAdjust="spacingAndGlyphs">-Log10(Pvalue)</text>
<text x="1274.00" y="363.90" font-size="27.8" textLength="143.50" lengthAdjust="spacingAndGlyphs">Significant</text>
<circle cx="1286.50" cy="389.10" r="8.75" fill="#ce3b38"/>
<text x="1300.00" y="393.70" font-size="27.6" textLength="122.00" lengthAdjust="spacingAndGlyphs">up (1572)</text>
<circle cx="1286.50" cy="414.20" r="8.75" fill="#eba136"/>
<text x="1300.00" y="418.80" font-size="27.6" textLength="177.50" lengthAdjust="spacingAndGlyphs">nosig (51845)</text>
<circle cx="1286.50" cy="438.70" r="8.75" fill="#5cb85c"/>
<text x="1300.00" y="443.30" font-size="27.6" textLength="160.50" lengthAdjust="spacingAndGlyphs">down (1997)</text>
</g>
<g id="panel-c">
<text x="1410.00" y="38.00" font-size="48">c</text>
<rect x="1480.80" y="114.50" width="151.80" height="50.22" fill="#f0b96a"/>
<rect x="1632.30" y="114.50" width="151.50" height="50.22" fill="#f2883f"/>
<text transform="translate(1787.90 144.70) scale(0.992 1)" font-size="27.9" fill="#000">Pparg</text>
<rect x="1480.80" y="164.42" width="151.80" height="50.22" fill="#f2883f"/>
<rect x="1632.30" y="164.42" width="151.50" height="50.22" fill="#ee6226"/>
<text transform="translate(1787.90 194.62) scale(0.992 1)" font-size="27.9" fill="#000">Fabp4</text>
<rect x="1480.80" y="214.34" width="151.80" height="50.22" fill="#97cc97"/>
<rect x="1632.30" y="214.34" width="151.50" height="50.22" fill="#e3e08d"/>
<text transform="translate(1787.90 244.54) scale(0.992 1)" font-size="27.9" fill="#000">Plin1</text>
<rect x="1480.80" y="264.26" width="151.80" height="50.22" fill="#f07430"/>
<rect x="1632.30" y="264.26" width="151.50" height="50.22" fill="#ec471b"/>
<text transform="translate(1787.90 294.46) scale(0.992 1)" font-size="27.9" fill="#000">Plin2</text>
<rect x="1480.80" y="314.18" width="151.80" height="50.22" fill="#c7da8e"/>
<rect x="1632.30" y="314.18" width="151.50" height="50.22" fill="#f0b065"/>
<text transform="translate(1787.90 344.38) scale(0.992 1)" font-size="27.9" fill="#000">Plin4</text>
<rect x="1480.80" y="364.10" width="151.80" height="50.22" fill="#efc470"/>
<rect x="1632.30" y="364.10" width="151.50" height="50.22" fill="#f0a055"/>
<text transform="translate(1787.90 394.30) scale(0.992 1)" font-size="27.9" fill="#000">Osr1</text>
<rect x="1480.80" y="414.02" width="151.80" height="50.22" fill="#edd07a"/>
<rect x="1632.30" y="414.02" width="151.50" height="50.22" fill="#f0ac60"/>
<text transform="translate(1787.90 444.22) scale(0.992 1)" font-size="27.9" fill="#000">Hic1</text>
<rect x="1480.80" y="463.94" width="151.80" height="50.22" fill="#f0b86b"/>
<rect x="1632.30" y="463.94" width="151.50" height="50.22" fill="#ed6828"/>
<text transform="translate(1787.90 494.14) scale(0.992 1)" font-size="27.9" fill="#000">Fasn</text>
<rect x="1480.80" y="513.86" width="151.80" height="50.22" fill="#ede088"/>
<rect x="1632.30" y="513.86" width="151.50" height="50.22" fill="#f0b065"/>
<text transform="translate(1787.90 544.06) scale(0.992 1)" font-size="27.9" fill="#000">Lrp5</text>
<rect x="1480.80" y="563.78" width="151.80" height="50.22" fill="#edd67e"/>
<rect x="1632.30" y="563.78" width="151.50" height="50.22" fill="#f0a156"/>
<text transform="translate(1787.90 593.98) scale(0.992 1)" font-size="27.9" fill="#000">Sphk1</text>
<rect x="1480.80" y="613.70" width="151.80" height="50.22" fill="#e0df8e"/>
<rect x="1632.30" y="613.70" width="151.50" height="50.22" fill="#f0a35a"/>
<text transform="translate(1787.90 643.90) scale(0.992 1)" font-size="27.9" fill="#000">Npc1</text>
<text x="1493.00" y="102.60" font-size="28.6" textLength="130.50" lengthAdjust="spacingAndGlyphs">ATT-FAPs</text>
<text x="1640.30" y="102.60" font-size="28.6" textLength="134.50" lengthAdjust="spacingAndGlyphs">RCT-FAPs</text>
<rect x="1891.40" y="113.00" width="19.80" height="233.30" fill="url(#legc)"/>
<text x="1937.20" y="134.60" font-size="27.8" text-anchor="middle" fill="#000">8</text>
<text x="1937.20" y="175.60" font-size="27.8" text-anchor="middle" fill="#000">6</text>
<text x="1937.20" y="216.90" font-size="27.8" text-anchor="middle" fill="#000">4</text>
<text x="1937.20" y="257.60" font-size="27.8" text-anchor="middle" fill="#000">2</text>
<text x="1937.20" y="297.80" font-size="27.8" text-anchor="middle" fill="#000">0</text>
<text x="1937.20" y="339.90" font-size="27.8" text-anchor="middle" fill="#000">−2</text>
</g>
<g id="panel-d">
<text x="21.00" y="797.00" font-size="48">d</text>
<text x="264.60" y="834.60" font-size="28.8" text-anchor="middle" textLength="93.00" lengthAdjust="spacingAndGlyphs">PPARγ</text>
<text x="133.10" y="1047.40" font-size="29.4" font-weight="normal" text-anchor="middle" transform="rotate(-90 133.10 1047.40)" textLength="335.50" lengthAdjust="spacingAndGlyphs" stroke="#231815" stroke-width="0.55">Relative mRNA level expression</text>
<line x1="228.40" y1="1155.50" x2="228.40" y2="1161.50" stroke="#231815" stroke-width="3"/>
<line x1="215.50" y1="1155.50" x2="241.25" y2="1155.50" stroke="#231815" stroke-width="3"/>
<rect x="201.25" y="1159.50" width="53.75" height="52.75" fill="#231815"/>
<line x1="307.50" y1="923.25" x2="307.50" y2="997.50" stroke="#231815" stroke-width="3"/>
<line x1="295.00" y1="923.25" x2="320.50" y2="923.25" stroke="#231815" stroke-width="3"/>
<rect x="280.50" y="995.50" width="54.00" height="216.75" fill="#231815"/>
<line x1="176.25" y1="884.40" x2="176.25" y2="1213.95" stroke="#231815" stroke-width="3.3"/>
<line x1="170.75" y1="1212.25" x2="360.75" y2="1212.25" stroke="#231815" stroke-width="3.4"/>
<line x1="170.65" y1="886.00" x2="176.25" y2="886.00" stroke="#231815" stroke-width="3.2"/>
<text transform="translate(161.00 891.70) scale(0.98 1)" font-size="28.6" text-anchor="end">6</text>
<line x1="170.65" y1="995.50" x2="176.25" y2="995.50" stroke="#231815" stroke-width="3.2"/>
<text transform="translate(161.00 1001.20) scale(0.98 1)" font-size="28.6" text-anchor="end">4</text>
<line x1="170.65" y1="1104.25" x2="176.25" y2="1104.25" stroke="#231815" stroke-width="3.2"/>
<text transform="translate(161.00 1109.95) scale(0.98 1)" font-size="28.6" text-anchor="end">2</text>
<line x1="170.65" y1="1212.25" x2="176.25" y2="1212.25" stroke="#231815" stroke-width="3.2"/>
<text transform="translate(161.00 1217.95) scale(0.98 1)" font-size="28.6" text-anchor="end">0</text>
<line x1="227.50" y1="1212.25" x2="227.50" y2="1226.70" stroke="#231815" stroke-width="3.2"/>
<line x1="307.50" y1="1212.25" x2="307.50" y2="1226.70" stroke="#231815" stroke-width="3.2"/>
<line x1="226.25" y1="901.75" x2="305.00" y2="901.75" stroke="#231815" stroke-width="3"/>
<text x="265.50" y="899.00" font-size="29" font-weight="normal" text-anchor="middle">*</text>
<text x="240.85" y="1244.90" font-size="28" text-anchor="end" transform="rotate(-45 240.85 1244.90)" textLength="135.00" lengthAdjust="spacingAndGlyphs">ATT-FAPs</text>
<text x="321.70" y="1244.90" font-size="28" text-anchor="end" transform="rotate(-45 321.70 1244.90)" textLength="139.00" lengthAdjust="spacingAndGlyphs">RCT-FAPs</text>
<text x="594.40" y="834.60" font-size="28.8" text-anchor="middle" textLength="92.50" lengthAdjust="spacingAndGlyphs">FABP4</text>
<text x="449.30" y="1047.40" font-size="29.4" font-weight="normal" text-anchor="middle" transform="rotate(-90 449.30 1047.40)" textLength="335.50" lengthAdjust="spacingAndGlyphs" stroke="#231815" stroke-width="0.55">Relative mRNA level expression</text>
<line x1="551.25" y1="1166.75" x2="551.25" y2="1176.25" stroke="#231815" stroke-width="3"/>
<line x1="538.25" y1="1166.75" x2="563.75" y2="1166.75" stroke="#231815" stroke-width="3"/>
<rect x="524.50" y="1174.25" width="53.00" height="37.65" fill="#231815"/>
<line x1="628.25" y1="986.25" x2="628.25" y2="1024.50" stroke="#231815" stroke-width="3"/>
<line x1="615.75" y1="986.25" x2="641.25" y2="986.25" stroke="#231815" stroke-width="3"/>
<rect x="602.50" y="1022.50" width="52.50" height="189.40" fill="#231815"/>
<line x1="499.50" y1="898.10" x2="499.50" y2="1213.60" stroke="#231815" stroke-width="3.3"/>
<line x1="495.00" y1="1211.90" x2="680.75" y2="1211.90" stroke="#231815" stroke-width="3.4"/>
<line x1="493.90" y1="899.70" x2="499.50" y2="899.70" stroke="#231815" stroke-width="3.2"/>
<text transform="translate(487.40 909.60) scale(0.98 1)" font-size="28.6" text-anchor="end">8</text>
<line x1="493.90" y1="977.90" x2="499.50" y2="977.90" stroke="#231815" stroke-width="3.2"/>
<text transform="translate(487.40 985.40) scale(0.98 1)" font-size="28.6" text-anchor="end">6</text>
<line x1="493.90" y1="1056.00" x2="499.50" y2="1056.00" stroke="#231815" stroke-width="3.2"/>
<text transform="translate(487.40 1063.50) scale(0.98 1)" font-size="28.6" text-anchor="end">4</text>
<line x1="493.90" y1="1134.20" x2="499.50" y2="1134.20" stroke="#231815" stroke-width="3.2"/>
<text transform="translate(487.40 1141.70) scale(0.98 1)" font-size="28.6" text-anchor="end">2</text>
<line x1="493.90" y1="1211.90" x2="499.50" y2="1211.90" stroke="#231815" stroke-width="3.2"/>
<text transform="translate(487.40 1219.40) scale(0.98 1)" font-size="28.6" text-anchor="end">0</text>
<line x1="550.75" y1="1211.90" x2="550.75" y2="1225.70" stroke="#231815" stroke-width="3.2"/>
<line x1="628.25" y1="1211.90" x2="628.25" y2="1225.70" stroke="#231815" stroke-width="3.2"/>
<line x1="549.25" y1="904.75" x2="633.25" y2="904.75" stroke="#231815" stroke-width="3"/>
<text x="591.25" y="904.00" font-size="29" font-weight="normal" text-anchor="middle">***</text>
<text x="564.30" y="1244.90" font-size="28" text-anchor="end" transform="rotate(-45 564.30 1244.90)" textLength="135.00" lengthAdjust="spacingAndGlyphs">ATT-FAPs</text>
<text x="645.40" y="1244.90" font-size="28" text-anchor="end" transform="rotate(-45 645.40 1244.90)" textLength="139.00" lengthAdjust="spacingAndGlyphs">RCT-FAPs</text>
<text x="885.90" y="834.60" font-size="28.8" text-anchor="middle" textLength="75.50" lengthAdjust="spacingAndGlyphs">PLIN1</text>
<text x="756.30" y="1047.40" font-size="29.4" font-weight="normal" text-anchor="middle" transform="rotate(-90 756.30 1047.40)" textLength="335.50" lengthAdjust="spacingAndGlyphs" stroke="#231815" stroke-width="0.55">Relative mRNA level expression</text>
<line x1="860.00" y1="1177.00" x2="860.00" y2="1191.25" stroke="#231815" stroke-width="3"/>
<line x1="847.00" y1="1177.00" x2="872.50" y2="1177.00" stroke="#231815" stroke-width="3"/>
<rect x="833.25" y="1189.25" width="53.75" height="22.00" fill="#231815"/>
<line x1="939.00" y1="953.25" x2="939.00" y2="1002.75" stroke="#231815" stroke-width="3"/>
<line x1="926.00" y1="953.25" x2="952.00" y2="953.25" stroke="#231815" stroke-width="3"/>
<rect x="912.00" y="1000.75" width="53.75" height="210.50" fill="#231815"/>
<line x1="807.50" y1="895.90" x2="807.50" y2="1212.95" stroke="#231815" stroke-width="3.3"/>
<line x1="802.50" y1="1211.25" x2="992.50" y2="1211.25" stroke="#231815" stroke-width="3.4"/>
<line x1="801.90" y1="897.50" x2="807.50" y2="897.50" stroke="#231815" stroke-width="3.2"/>
<text transform="translate(795.30 903.20) scale(0.98 1)" font-size="28.6" text-anchor="end">15</text>
<line x1="801.90" y1="1001.75" x2="807.50" y2="1001.75" stroke="#231815" stroke-width="3.2"/>
<text transform="translate(795.30 1007.45) scale(0.98 1)" font-size="28.6" text-anchor="end">10</text>
<line x1="801.90" y1="1106.50" x2="807.50" y2="1106.50" stroke="#231815" stroke-width="3.2"/>
<text transform="translate(795.30 1112.20) scale(0.98 1)" font-size="28.6" text-anchor="end">5</text>
<line x1="801.90" y1="1211.25" x2="807.50" y2="1211.25" stroke="#231815" stroke-width="3.2"/>
<text transform="translate(795.30 1216.95) scale(0.98 1)" font-size="28.6" text-anchor="end">0</text>
<line x1="860.00" y1="1211.25" x2="860.00" y2="1225.20" stroke="#231815" stroke-width="3.2"/>
<line x1="939.00" y1="1211.25" x2="939.00" y2="1225.20" stroke="#231815" stroke-width="3.2"/>
<line x1="870.75" y1="908.50" x2="949.50" y2="908.50" stroke="#231815" stroke-width="3"/>
<text x="910.00" y="907.75" font-size="29" font-weight="normal" text-anchor="middle">**</text>
<text x="871.50" y="1244.90" font-size="28" text-anchor="end" transform="rotate(-45 871.50 1244.90)" textLength="135.00" lengthAdjust="spacingAndGlyphs">ATT-FAPs</text>
<text x="952.30" y="1244.90" font-size="28" text-anchor="end" transform="rotate(-45 952.30 1244.90)" textLength="139.00" lengthAdjust="spacingAndGlyphs">RCT-FAPs</text>
<text x="1184.00" y="834.60" font-size="28.8" text-anchor="middle" textLength="78.50" lengthAdjust="spacingAndGlyphs">PLIN2</text>
<text x="1048.10" y="1047.40" font-size="29.4" font-weight="normal" text-anchor="middle" transform="rotate(-90 1048.10 1047.40)" textLength="335.50" lengthAdjust="spacingAndGlyphs" stroke="#231815" stroke-width="0.55">Relative mRNA level expression</text>
<line x1="1144.25" y1="1148.75" x2="1144.25" y2="1158.25" stroke="#231815" stroke-width="3"/>
<line x1="1131.75" y1="1148.75" x2="1156.75" y2="1148.75" stroke="#231815" stroke-width="3"/>
<rect x="1118.00" y="1156.25" width="52.50" height="52.25" fill="#231815"/>
<line x1="1221.25" y1="909.50" x2="1221.25" y2="955.00" stroke="#231815" stroke-width="3"/>
<line x1="1208.75" y1="909.50" x2="1234.25" y2="909.50" stroke="#231815" stroke-width="3"/>
<rect x="1195.50" y="953.00" width="52.50" height="255.50" fill="#231815"/>
<line x1="1092.00" y1="887.90" x2="1092.00" y2="1210.20" stroke="#231815" stroke-width="3.3"/>
<line x1="1087.50" y1="1208.50" x2="1273.75" y2="1208.50" stroke="#231815" stroke-width="3.4"/>
<line x1="1086.40" y1="889.50" x2="1092.00" y2="889.50" stroke="#231815" stroke-width="3.2"/>
<text transform="translate(1077.50 899.20) scale(0.98 1)" font-size="28.6" text-anchor="end">6</text>
<line x1="1086.40" y1="996.00" x2="1092.00" y2="996.00" stroke="#231815" stroke-width="3.2"/>
<text transform="translate(1080.70 1002.60) scale(0.98 1)" font-size="28.6" text-anchor="end">4</text>
<line x1="1086.40" y1="1102.25" x2="1092.00" y2="1102.25" stroke="#231815" stroke-width="3.2"/>
<text transform="translate(1080.70 1109.45) scale(0.98 1)" font-size="28.6" text-anchor="end">2</text>
<line x1="1086.40" y1="1208.50" x2="1092.00" y2="1208.50" stroke="#231815" stroke-width="3.2"/>
<text transform="translate(1079.90 1218.60) scale(0.98 1)" font-size="28.6" text-anchor="end">0</text>
<line x1="1144.25" y1="1208.50" x2="1144.25" y2="1222.20" stroke="#231815" stroke-width="3.2"/>
<line x1="1221.25" y1="1208.50" x2="1221.25" y2="1222.20" stroke="#231815" stroke-width="3.2"/>
<line x1="1143.00" y1="886.50" x2="1219.50" y2="886.50" stroke="#231815" stroke-width="3"/>
<text x="1181.75" y="890.25" font-size="29" font-weight="normal" text-anchor="middle">**</text>
<text x="1154.40" y="1244.90" font-size="28" text-anchor="end" transform="rotate(-45 1154.40 1244.90)" textLength="135.00" lengthAdjust="spacingAndGlyphs">ATT-FAPs</text>
<text x="1235.00" y="1244.90" font-size="28" text-anchor="end" transform="rotate(-45 1235.00 1244.90)" textLength="139.00" lengthAdjust="spacingAndGlyphs">RCT-FAPs</text>
<text x="1461.00" y="834.60" font-size="28.8" text-anchor="middle" textLength="78.50" lengthAdjust="spacingAndGlyphs">PLIN4</text>
<text x="1338.10" y="1047.40" font-size="29.4" font-weight="normal" text-anchor="middle" transform="rotate(-90 1338.10 1047.40)" textLength="335.50" lengthAdjust="spacingAndGlyphs" stroke="#231815" stroke-width="0.55">Relative mRNA level expression</text>
<line x1="1434.50" y1="1147.50" x2="1434.50" y2="1155.75" stroke="#231815" stroke-width="3"/>
<line x1="1422.00" y1="1147.50" x2="1447.00" y2="1147.50" stroke="#231815" stroke-width="3"/>
<rect x="1408.25" y="1153.75" width="52.50" height="52.25" fill="#231815"/>
<line x1="1511.25" y1="935.75" x2="1511.25" y2="961.50" stroke="#231815" stroke-width="3"/>
<line x1="1498.75" y1="935.75" x2="1524.25" y2="935.75" stroke="#231815" stroke-width="3"/>
<rect x="1485.50" y="959.50" width="52.00" height="246.50" fill="#231815"/>
<line x1="1382.50" y1="882.15" x2="1382.50" y2="1207.70" stroke="#231815" stroke-width="3.3"/>
<line x1="1378.00" y1="1206.00" x2="1563.00" y2="1206.00" stroke="#231815" stroke-width="3.4"/>
<line x1="1376.90" y1="883.75" x2="1382.50" y2="883.75" stroke="#231815" stroke-width="3.2"/>
<text transform="translate(1365.20 889.45) scale(0.98 1)" font-size="28.6" text-anchor="end">6</text>
<line x1="1376.90" y1="991.50" x2="1382.50" y2="991.50" stroke="#231815" stroke-width="3.2"/>
<text transform="translate(1365.20 997.20) scale(0.98 1)" font-size="28.6" text-anchor="end">4</text>
<line x1="1376.90" y1="1098.75" x2="1382.50" y2="1098.75" stroke="#231815" stroke-width="3.2"/>
<text transform="translate(1365.20 1104.45) scale(0.98 1)" font-size="28.6" text-anchor="end">2</text>
<line x1="1376.90" y1="1206.00" x2="1382.50" y2="1206.00" stroke="#231815" stroke-width="3.2"/>
<text transform="translate(1365.20 1211.70) scale(0.98 1)" font-size="28.6" text-anchor="end">0</text>
<line x1="1434.50" y1="1206.00" x2="1434.50" y2="1219.70" stroke="#231815" stroke-width="3.2"/>
<line x1="1511.25" y1="1206.00" x2="1511.25" y2="1219.70" stroke="#231815" stroke-width="3.2"/>
<line x1="1436.75" y1="899.75" x2="1512.50" y2="899.75" stroke="#231815" stroke-width="3"/>
<text x="1474.25" y="896.50" font-size="29" font-weight="normal" text-anchor="middle">***</text>
<text x="1446.50" y="1244.90" font-size="28" text-anchor="end" transform="rotate(-45 1446.50 1244.90)" textLength="135.00" lengthAdjust="spacingAndGlyphs">ATT-FAPs</text>
<text x="1526.60" y="1244.90" font-size="28" text-anchor="end" transform="rotate(-45 1526.60 1244.90)" textLength="139.00" lengthAdjust="spacingAndGlyphs">RCT-FAPs</text>
<text x="1786.60" y="834.60" font-size="28.8" text-anchor="middle" textLength="75.00" lengthAdjust="spacingAndGlyphs">FASN</text>
<text x="1646.60" y="1047.40" font-size="29.4" font-weight="normal" text-anchor="middle" transform="rotate(-90 1646.60 1047.40)" textLength="335.50" lengthAdjust="spacingAndGlyphs" stroke="#231815" stroke-width="0.55">Relative mRNA level expression</text>
<line x1="1753.50" y1="1166.25" x2="1753.50" y2="1174.50" stroke="#231815" stroke-width="3"/>
<line x1="1741.00" y1="1166.25" x2="1766.50" y2="1166.25" stroke="#231815" stroke-width="3"/>
<rect x="1727.25" y="1172.50" width="52.50" height="30.50" fill="#231815"/>
<line x1="1830.25" y1="898.00" x2="1830.25" y2="915.00" stroke="#231815" stroke-width="3"/>
<line x1="1817.25" y1="898.00" x2="1843.00" y2="898.00" stroke="#231815" stroke-width="3"/>
<rect x="1803.50" y="913.00" width="52.50" height="290.00" fill="#231815"/>
<line x1="1702.30" y1="879.65" x2="1702.30" y2="1204.70" stroke="#231815" stroke-width="3.3"/>
<line x1="1697.75" y1="1203.00" x2="1881.50" y2="1203.00" stroke="#231815" stroke-width="3.4"/>
<line x1="1696.70" y1="881.25" x2="1702.30" y2="881.25" stroke="#231815" stroke-width="3.2"/>
<text transform="translate(1681.70 886.95) scale(0.98 1)" font-size="28.6" text-anchor="end">10</text>
<line x1="1696.70" y1="946.00" x2="1702.30" y2="946.00" stroke="#231815" stroke-width="3.2"/>
<text transform="translate(1681.70 951.70) scale(0.98 1)" font-size="28.6" text-anchor="end">8</text>
<line x1="1696.70" y1="1010.30" x2="1702.30" y2="1010.30" stroke="#231815" stroke-width="3.2"/>
<text transform="translate(1681.70 1016.00) scale(0.98 1)" font-size="28.6" text-anchor="end">6</text>
<line x1="1696.70" y1="1074.70" x2="1702.30" y2="1074.70" stroke="#231815" stroke-width="3.2"/>
<text transform="translate(1681.70 1080.40) scale(0.98 1)" font-size="28.6" text-anchor="end">4</text>
<line x1="1696.70" y1="1138.80" x2="1702.30" y2="1138.80" stroke="#231815" stroke-width="3.2"/>
<text transform="translate(1681.70 1144.50) scale(0.98 1)" font-size="28.6" text-anchor="end">2</text>
<line x1="1696.70" y1="1203.00" x2="1702.30" y2="1203.00" stroke="#231815" stroke-width="3.2"/>
<text transform="translate(1681.70 1208.70) scale(0.98 1)" font-size="28.6" text-anchor="end">0</text>
<line x1="1753.50" y1="1203.00" x2="1753.50" y2="1216.20" stroke="#231815" stroke-width="3.2"/>
<line x1="1830.25" y1="1203.00" x2="1830.25" y2="1216.20" stroke="#231815" stroke-width="3.2"/>
<line x1="1757.50" y1="865.50" x2="1830.25" y2="865.50" stroke="#231815" stroke-width="3"/>
<text x="1793.50" y="867.25" font-size="29" font-weight="normal" text-anchor="middle">***</text>
<text x="1769.50" y="1244.90" font-size="28" text-anchor="end" transform="rotate(-45 1769.50 1244.90)" textLength="135.00" lengthAdjust="spacingAndGlyphs">ATT-FAPs</text>
<text x="1850.60" y="1244.90" font-size="28" text-anchor="end" transform="rotate(-45 1850.60 1244.90)" textLength="139.00" lengthAdjust="spacingAndGlyphs">RCT-FAPs</text>
</g>
<g id="panel-e">
<text x="23.30" y="1466.90" font-size="48">e</text>
<text x="681.30" y="1558.90" font-size="27" text-anchor="middle" fill="#000" textLength="161.00" lengthAdjust="spacingAndGlyphs">GO analysis</text>
<rect x="558.70" y="1602.30" width="294.50" height="701.50" fill="#eeeeec"/>
<line x1="636.40" y1="1602.30" x2="636.40" y2="2303.80" stroke="#fff" stroke-width="1.8"/>
<line x1="729.80" y1="1602.30" x2="729.80" y2="2303.80" stroke="#fff" stroke-width="1.8"/>
<line x1="823.20" y1="1602.30" x2="823.20" y2="2303.80" stroke="#fff" stroke-width="1.8"/>
<line x1="589.70" y1="1602.30" x2="589.70" y2="2303.80" stroke="#fff" stroke-width="3.6"/>
<line x1="683.10" y1="1602.30" x2="683.10" y2="2303.80" stroke="#fff" stroke-width="3.6"/>
<line x1="776.50" y1="1602.30" x2="776.50" y2="2303.80" stroke="#fff" stroke-width="3.6"/>
<line x1="558.70" y1="1629.10" x2="853.20" y2="1629.10" stroke="#fff" stroke-width="3.6"/>
<line x1="553.00" y1="1629.10" x2="559.10" y2="1629.10" stroke="#333" stroke-width="3.3"/>
<line x1="558.70" y1="1675.30" x2="853.20" y2="1675.30" stroke="#fff" stroke-width="3.6"/>
<line x1="553.00" y1="1675.30" x2="559.10" y2="1675.30" stroke="#333" stroke-width="3.3"/>
<line x1="558.70" y1="1721.50" x2="853.20" y2="1721.50" stroke="#fff" stroke-width="3.6"/>
<line x1="553.00" y1="1721.50" x2="559.10" y2="1721.50" stroke="#333" stroke-width="3.3"/>
<line x1="558.70" y1="1767.70" x2="853.20" y2="1767.70" stroke="#fff" stroke-width="3.6"/>
<line x1="553.00" y1="1767.70" x2="559.10" y2="1767.70" stroke="#333" stroke-width="3.3"/>
<line x1="558.70" y1="1813.90" x2="853.20" y2="1813.90" stroke="#fff" stroke-width="3.6"/>
<line x1="553.00" y1="1813.90" x2="559.10" y2="1813.90" stroke="#333" stroke-width="3.3"/>
<line x1="558.70" y1="1860.10" x2="853.20" y2="1860.10" stroke="#fff" stroke-width="3.6"/>
<line x1="553.00" y1="1860.10" x2="559.10" y2="1860.10" stroke="#333" stroke-width="3.3"/>
<line x1="558.70" y1="1906.30" x2="853.20" y2="1906.30" stroke="#fff" stroke-width="3.6"/>
<line x1="553.00" y1="1906.30" x2="559.10" y2="1906.30" stroke="#333" stroke-width="3.3"/>
<line x1="558.70" y1="1952.50" x2="853.20" y2="1952.50" stroke="#fff" stroke-width="3.6"/>
<line x1="553.00" y1="1952.50" x2="559.10" y2="1952.50" stroke="#333" stroke-width="3.3"/>
<line x1="558.70" y1="1998.70" x2="853.20" y2="1998.70" stroke="#fff" stroke-width="3.6"/>
<line x1="553.00" y1="1998.70" x2="559.10" y2="1998.70" stroke="#333" stroke-width="3.3"/>
<line x1="558.70" y1="2044.90" x2="853.20" y2="2044.90" stroke="#fff" stroke-width="3.6"/>
<line x1="553.00" y1="2044.90" x2="559.10" y2="2044.90" stroke="#333" stroke-width="3.3"/>
<line x1="558.70" y1="2091.10" x2="853.20" y2="2091.10" stroke="#fff" stroke-width="3.6"/>
<line x1="553.00" y1="2091.10" x2="559.10" y2="2091.10" stroke="#333" stroke-width="3.3"/>
<line x1="558.70" y1="2137.30" x2="853.20" y2="2137.30" stroke="#fff" stroke-width="3.6"/>
<line x1="553.00" y1="2137.30" x2="559.10" y2="2137.30" stroke="#333" stroke-width="3.3"/>
<line x1="558.70" y1="2183.50" x2="853.20" y2="2183.50" stroke="#fff" stroke-width="3.6"/>
<line x1="553.00" y1="2183.50" x2="559.10" y2="2183.50" stroke="#333" stroke-width="3.3"/>
<line x1="558.70" y1="2229.70" x2="853.20" y2="2229.70" stroke="#fff" stroke-width="3.6"/>
<line x1="553.00" y1="2229.70" x2="559.10" y2="2229.70" stroke="#333" stroke-width="3.3"/>
<line x1="558.70" y1="2275.90" x2="853.20" y2="2275.90" stroke="#fff" stroke-width="3.6"/>
<line x1="553.00" y1="2275.90" x2="559.10" y2="2275.90" stroke="#333" stroke-width="3.3"/>
<line x1="589.70" y1="2303.80" x2="589.70" y2="2309.80" stroke="#333" stroke-width="3"/>
<text x="587.40" y="2346.10" font-size="27" text-anchor="middle" textLength="37.00" lengthAdjust="spacingAndGlyphs">0.1</text>
<line x1="683.10" y1="2303.80" x2="683.10" y2="2309.80" stroke="#333" stroke-width="3"/>
<text x="680.80" y="2346.10" font-size="27" text-anchor="middle" textLength="37.00" lengthAdjust="spacingAndGlyphs">0.2</text>
<line x1="776.50" y1="2303.80" x2="776.50" y2="2309.80" stroke="#333" stroke-width="3"/>
<text x="774.20" y="2346.10" font-size="27" text-anchor="middle" textLength="37.00" lengthAdjust="spacingAndGlyphs">0.3</text>
<circle cx="694.50" cy="1629.10" r="8.30" fill="#e8141f"/>
<circle cx="618.20" cy="1675.30" r="11.30" fill="#e8141f"/>
<circle cx="715.80" cy="1721.50" r="9.10" fill="#e81422"/>
<circle cx="572.00" cy="1767.70" r="15.50" fill="#dc0f4a"/>
<circle cx="611.80" cy="1813.90" r="10.00" fill="#dc1248"/>
<circle cx="621.50" cy="1860.10" r="9.40" fill="#dc1248"/>
<circle cx="696.10" cy="1906.30" r="7.20" fill="#d4125a"/>
<circle cx="629.80" cy="1952.50" r="8.80" fill="#d2125e"/>
<circle cx="840.20" cy="1998.70" r="6.40" fill="#d81258"/>
<circle cx="608.80" cy="2044.90" r="8.30" fill="#8c3a9e"/>
<circle cx="649.10" cy="2091.10" r="6.90" fill="#8c3a9e"/>
<circle cx="683.10" cy="2137.30" r="6.10" fill="#7c3a9c"/>
<circle cx="645.00" cy="2183.50" r="6.40" fill="#6040a0"/>
<circle cx="696.10" cy="2229.70" r="3.90" fill="#2050a8"/>
<circle cx="645.80" cy="2275.90" r="5.00" fill="#2050a8"/>
<line x1="838.50" y1="1781.20" x2="845.50" y2="1781.20" stroke="#fff" stroke-width="1.3"/>
<line x1="838.50" y1="1819.00" x2="845.50" y2="1819.00" stroke="#fff" stroke-width="1.3"/>
<line x1="838.50" y1="1856.80" x2="845.50" y2="1856.80" stroke="#fff" stroke-width="1.3"/>
<line x1="838.50" y1="1894.60" x2="845.50" y2="1894.60" stroke="#fff" stroke-width="1.3"/>
<line x1="838.50" y1="1932.00" x2="845.50" y2="1932.00" stroke="#fff" stroke-width="1.3"/>
<text transform="translate(540.30 1632.60) scale(0.972 1)" font-size="27" text-anchor="end">Regulation of BMP signaling pathway</text>
<text transform="translate(540.30 1680.30) scale(0.972 1)" font-size="27" text-anchor="end">Regulation of lipid metabolic process</text>
<text transform="translate(540.30 1728.00) scale(0.972 1)" font-size="27" text-anchor="end">Regulation of fat cell differentiation</text>
<text transform="translate(540.30 1780.30) scale(0.972 1)" font-size="27" text-anchor="end">Lipid metabolic process</text>
<text transform="translate(540.30 1820.60) scale(0.972 1)" font-size="27" text-anchor="end">Wnt signaling pathway</text>
<text transform="translate(540.30 1869.00) scale(0.972 1)" font-size="27" text-anchor="end">Calmodulin binding</text>
<text transform="translate(540.30 1914.80) scale(0.972 1)" font-size="27" text-anchor="end">Positive regulation of fat cell differentiation</text>
<text transform="translate(540.30 1960.00) scale(0.972 1)" font-size="27" text-anchor="end">Lipid homeostasis</text>
<text transform="translate(540.30 1996.10) scale(0.972 1)" font-size="27" text-anchor="end">Positive regulation of collagen</text>
<text transform="translate(540.30 2021.30) scale(0.972 1)" font-size="27" text-anchor="end">biosynthetic process</text>
<text transform="translate(540.30 2055.80) scale(0.972 1)" font-size="27" text-anchor="end">Cell fate commitment</text>
<text transform="translate(540.30 2097.70) scale(0.972 1)" font-size="27" text-anchor="end">Glutamate receptor binding</text>
<text transform="translate(540.30 2141.90) scale(0.972 1)" font-size="27" text-anchor="end">Cell fate determination</text>
<text transform="translate(540.30 2190.00) scale(0.972 1)" font-size="27" text-anchor="end">Brown fat cell differentiation</text>
<text transform="translate(540.30 2240.60) scale(0.972 1)" font-size="27" text-anchor="end">White fat cell differentiation</text>
<text transform="translate(540.30 2288.00) scale(0.972 1)" font-size="27" text-anchor="end">Regulation of bone development</text>
<text x="694.50" y="2389.00" font-size="27" text-anchor="middle" textLength="144.50" lengthAdjust="spacingAndGlyphs">Rich factor</text>
<text x="879.50" y="1758.50" font-size="27" textLength="206.00" lengthAdjust="spacingAndGlyphs">-Log10(P value)</text>
<rect x="890.50" y="1774.60" width="35.90" height="181.10" fill="url(#lege)"/>
<line x1="919.20" y1="1783.40" x2="926.40" y2="1783.40" stroke="#fff" stroke-width="1.4"/>
<text x="941.00" y="1797.00" font-size="27" fill="#000">6</text>
<line x1="919.20" y1="1820.70" x2="926.40" y2="1820.70" stroke="#fff" stroke-width="1.4"/>
<text x="941.00" y="1834.30" font-size="27" fill="#000">5</text>
<line x1="919.20" y1="1858.60" x2="926.40" y2="1858.60" stroke="#fff" stroke-width="1.4"/>
<text x="941.00" y="1872.20" font-size="27" fill="#000">4</text>
<line x1="919.20" y1="1896.20" x2="926.40" y2="1896.20" stroke="#fff" stroke-width="1.4"/>
<text x="941.00" y="1909.80" font-size="27" fill="#000">3</text>
<line x1="919.20" y1="1934.10" x2="926.40" y2="1934.10" stroke="#fff" stroke-width="1.4"/>
<text x="941.00" y="1947.70" font-size="27" fill="#000">2</text>
<text x="889.50" y="2024.60" font-size="27" textLength="97.00" lengthAdjust="spacingAndGlyphs">Counts</text>
<rect x="890.50" y="2042.80" width="35.90" height="144.30" fill="#f2f2f2"/>
<circle cx="908.50" cy="2060.50" r="9.40" fill="#000"/>
<text x="955.30" y="2071.10" font-size="27" text-anchor="middle" fill="#000">25</text>
<circle cx="908.50" cy="2097.30" r="11.90" fill="#000"/>
<text x="955.30" y="2107.90" font-size="27" text-anchor="middle" fill="#000">50</text>
<circle cx="908.50" cy="2134.00" r="13.80" fill="#000"/>
<text x="955.30" y="2144.60" font-size="27" text-anchor="middle" fill="#000">75</text>
<circle cx="908.50" cy="2170.50" r="15.50" fill="#000"/>
<text x="955.30" y="2181.10" font-size="27" text-anchor="middle" fill="#000">100</text>
</g>
<g id="panel-f">
<text x="1017.00" y="1466.30" font-size="48">f</text>
<text x="1598.20" y="1559.30" font-size="27" text-anchor="middle" fill="#000" textLength="200.00" lengthAdjust="spacingAndGlyphs">KEGG analysis</text>
<rect x="1448.80" y="1583.30" width="290.30" height="731.90" fill="#eeeeec"/>
<line x1="1521.90" y1="1583.30" x2="1521.90" y2="2315.20" stroke="#fff" stroke-width="1.8"/>
<line x1="1622.00" y1="1583.30" x2="1622.00" y2="2315.20" stroke="#fff" stroke-width="1.8"/>
<line x1="1721.50" y1="1583.30" x2="1721.50" y2="2315.20" stroke="#fff" stroke-width="1.8"/>
<line x1="1471.80" y1="1583.30" x2="1471.80" y2="2315.20" stroke="#fff" stroke-width="3.6"/>
<line x1="1572.20" y1="1583.30" x2="1572.20" y2="2315.20" stroke="#fff" stroke-width="3.6"/>
<line x1="1672.00" y1="1583.30" x2="1672.00" y2="2315.20" stroke="#fff" stroke-width="3.6"/>
<line x1="1448.80" y1="1612.00" x2="1739.10" y2="1612.00" stroke="#fff" stroke-width="3.6"/>
<line x1="1442.80" y1="1612.00" x2="1449.20" y2="1612.00" stroke="#333" stroke-width="3.3"/>
<line x1="1448.80" y1="1660.20" x2="1739.10" y2="1660.20" stroke="#fff" stroke-width="3.6"/>
<line x1="1442.80" y1="1660.20" x2="1449.20" y2="1660.20" stroke="#333" stroke-width="3.3"/>
<line x1="1448.80" y1="1708.40" x2="1739.10" y2="1708.40" stroke="#fff" stroke-width="3.6"/>
<line x1="1442.80" y1="1708.40" x2="1449.20" y2="1708.40" stroke="#333" stroke-width="3.3"/>
<line x1="1448.80" y1="1756.60" x2="1739.10" y2="1756.60" stroke="#fff" stroke-width="3.6"/>
<line x1="1442.80" y1="1756.60" x2="1449.20" y2="1756.60" stroke="#333" stroke-width="3.3"/>
<line x1="1448.80" y1="1804.80" x2="1739.10" y2="1804.80" stroke="#fff" stroke-width="3.6"/>
<line x1="1442.80" y1="1804.80" x2="1449.20" y2="1804.80" stroke="#333" stroke-width="3.3"/>
<line x1="1448.80" y1="1853.00" x2="1739.10" y2="1853.00" stroke="#fff" stroke-width="3.6"/>
<line x1="1442.80" y1="1853.00" x2="1449.20" y2="1853.00" stroke="#333" stroke-width="3.3"/>
<line x1="1448.80" y1="1901.20" x2="1739.10" y2="1901.20" stroke="#fff" stroke-width="3.6"/>
<line x1="1442.80" y1="1901.20" x2="1449.20" y2="1901.20" stroke="#333" stroke-width="3.3"/>
<line x1="1448.80" y1="1949.40" x2="1739.10" y2="1949.40" stroke="#fff" stroke-width="3.6"/>
<line x1="1442.80" y1="1949.40" x2="1449.20" y2="1949.40" stroke="#333" stroke-width="3.3"/>
<line x1="1448.80" y1="1997.60" x2="1739.10" y2="1997.60" stroke="#fff" stroke-width="3.6"/>
<line x1="1442.80" y1="1997.60" x2="1449.20" y2="1997.60" stroke="#333" stroke-width="3.3"/>
<line x1="1448.80" y1="2045.80" x2="1739.10" y2="2045.80" stroke="#fff" stroke-width="3.6"/>
<line x1="1442.80" y1="2045.80" x2="1449.20" y2="2045.80" stroke="#333" stroke-width="3.3"/>
<line x1="1448.80" y1="2094.00" x2="1739.10" y2="2094.00" stroke="#fff" stroke-width="3.6"/>
<line x1="1442.80" y1="2094.00" x2="1449.20" y2="2094.00" stroke="#333" stroke-width="3.3"/>
<line x1="1448.80" y1="2142.20" x2="1739.10" y2="2142.20" stroke="#fff" stroke-width="3.6"/>
<line x1="1442.80" y1="2142.20" x2="1449.20" y2="2142.20" stroke="#333" stroke-width="3.3"/>
<line x1="1448.80" y1="2190.40" x2="1739.10" y2="2190.40" stroke="#fff" stroke-width="3.6"/>
<line x1="1442.80" y1="2190.40" x2="1449.20" y2="2190.40" stroke="#333" stroke-width="3.3"/>
<line x1="1448.80" y1="2238.60" x2="1739.10" y2="2238.60" stroke="#fff" stroke-width="3.6"/>
<line x1="1442.80" y1="2238.60" x2="1449.20" y2="2238.60" stroke="#333" stroke-width="3.3"/>
<line x1="1448.80" y1="2286.80" x2="1739.10" y2="2286.80" stroke="#fff" stroke-width="3.6"/>
<line x1="1442.80" y1="2286.80" x2="1449.20" y2="2286.80" stroke="#333" stroke-width="3.3"/>
<line x1="1471.80" y1="2315.20" x2="1471.80" y2="2321.60" stroke="#333" stroke-width="3"/>
<text x="1480.20" y="2355.20" font-size="27" text-anchor="middle" fill="#000" textLength="54.00" lengthAdjust="spacingAndGlyphs">0.15</text>
<line x1="1572.20" y1="2315.20" x2="1572.20" y2="2321.60" stroke="#333" stroke-width="3"/>
<text x="1580.60" y="2355.20" font-size="27" text-anchor="middle" fill="#000" textLength="54.00" lengthAdjust="spacingAndGlyphs">0.20</text>
<line x1="1672.00" y1="2315.20" x2="1672.00" y2="2321.60" stroke="#333" stroke-width="3"/>
<text x="1680.40" y="2355.20" font-size="27" text-anchor="middle" fill="#000" textLength="54.00" lengthAdjust="spacingAndGlyphs">0.25</text>
<circle cx="1512.10" cy="1612.00" r="16.00" fill="#e8141f"/>
<circle cx="1703.90" cy="1660.20" r="9.30" fill="#e0103c"/>
<circle cx="1566.70" cy="1708.40" r="12.10" fill="#e0103c"/>
<circle cx="1591.00" cy="1756.60" r="11.50" fill="#dc1040"/>
<circle cx="1571.90" cy="1804.80" r="11.50" fill="#d81050"/>
<circle cx="1550.40" cy="1853.00" r="12.10" fill="#d40c58"/>
<circle cx="1643.20" cy="1901.20" r="9.60" fill="#d01060"/>
<circle cx="1480.70" cy="1949.40" r="14.20" fill="#922d96"/>
<circle cx="1515.30" cy="1997.60" r="11.80" fill="#9a2c98"/>
<circle cx="1553.60" cy="2045.80" r="9.90" fill="#82389c"/>
<circle cx="1620.10" cy="2094.00" r="8.30" fill="#82389c"/>
<circle cx="1508.20" cy="2142.20" r="10.20" fill="#4b45a5"/>
<circle cx="1726.00" cy="2190.40" r="4.20" fill="#3c48a8"/>
<circle cx="1502.20" cy="2238.60" r="9.60" fill="#2550a8"/>
<circle cx="1461.90" cy="2286.80" r="12.50" fill="#2050a8"/>
<text transform="translate(1426.30 1620.40) scale(1.026 1)" font-size="27" text-anchor="end" fill="#000">PI3K−Akt signaling pathway</text>
<text transform="translate(1426.30 1671.70) scale(1.031 1)" font-size="27" text-anchor="end" fill="#000">Notch signaling pathway</text>
<text transform="translate(1426.30 1719.90) scale(1.031 1)" font-size="27" text-anchor="end" fill="#000">MicroRNAs in cancer</text>
<text transform="translate(1426.30 1768.10) scale(1.031 1)" font-size="27" text-anchor="end" fill="#000">Platelet activation</text>
<text transform="translate(1426.30 1816.30) scale(1.031 1)" font-size="27" text-anchor="end" fill="#000">Apelin signaling pathway</text>
<text transform="translate(1426.30 1864.50) scale(1.031 1)" font-size="27" text-anchor="end" fill="#000">Wnt signaling pathway</text>
<text transform="translate(1426.30 1912.70) scale(1.031 1)" font-size="27" text-anchor="end" fill="#000">Adherens junction</text>
<text transform="translate(1426.30 1960.90) scale(1.031 1)" font-size="27" text-anchor="end" fill="#000">MAPK signaling pathway</text>
<text transform="translate(1426.30 2009.10) scale(1.031 1)" font-size="27" text-anchor="end" fill="#000">Cell adhesion molecules</text>
<text transform="translate(1426.30 2057.30) scale(1.031 1)" font-size="27" text-anchor="end" fill="#000">PPAR signaling pathway</text>
<text transform="translate(1426.30 2105.50) scale(1.031 1)" font-size="27" text-anchor="end" fill="#000">ABC transporters</text>
<text transform="translate(1426.30 2153.70) scale(1.031 1)" font-size="27" text-anchor="end" fill="#000">Glutamatergic synapse</text>
<text transform="translate(1426.30 2201.90) scale(1.031 1)" font-size="27" text-anchor="end" fill="#000">Fatty acid biosynthesis</text>
<text transform="translate(1426.30 2250.10) scale(1.031 1)" font-size="27" text-anchor="end" fill="#000">Aldosterone synthesis and secretion</text>
<text transform="translate(1426.30 2298.30) scale(1.031 1)" font-size="27" text-anchor="end" fill="#000">Rap1 signaling pathway</text>
<rect x="1048.3" y="1592.9" width="382.2" height="38.3" fill="none" stroke="#e60012" stroke-width="3.1"/>
<rect x="1120.8" y="1837.6" width="309.7" height="38.3" fill="none" stroke="#e60012" stroke-width="3.1"/>
<rect x="1101.2" y="2030.3" width="329.3" height="38.3" fill="none" stroke="#e60012" stroke-width="3.1"/>
<text x="1581.00" y="2388.80" font-size="27" text-anchor="middle" fill="#000" textLength="144.50" lengthAdjust="spacingAndGlyphs">Rich factor</text>
<text x="1775.00" y="1698.40" font-size="27" fill="#000" textLength="197.00" lengthAdjust="spacingAndGlyphs">−log10(Pvalue)</text>
<rect x="1775.80" y="1717.20" width="37.40" height="189.00" fill="url(#legf)"/>
<line x1="1775.80" y1="1741.20" x2="1783.20" y2="1741.20" stroke="#fff" stroke-width="1.4"/>
<line x1="1805.80" y1="1741.20" x2="1813.20" y2="1741.20" stroke="#fff" stroke-width="1.4"/>
<text x="1827.60" y="1747.00" font-size="27" fill="#000">3.5</text>
<line x1="1775.80" y1="1778.90" x2="1783.20" y2="1778.90" stroke="#fff" stroke-width="1.4"/>
<line x1="1805.80" y1="1778.90" x2="1813.20" y2="1778.90" stroke="#fff" stroke-width="1.4"/>
<text x="1827.60" y="1785.30" font-size="27" fill="#000">3.0</text>
<line x1="1775.80" y1="1816.60" x2="1783.20" y2="1816.60" stroke="#fff" stroke-width="1.4"/>
<line x1="1805.80" y1="1816.60" x2="1813.20" y2="1816.60" stroke="#fff" stroke-width="1.4"/>
<text x="1827.60" y="1823.70" font-size="27" fill="#000">2.5</text>
<line x1="1775.80" y1="1854.70" x2="1783.20" y2="1854.70" stroke="#fff" stroke-width="1.4"/>
<line x1="1805.80" y1="1854.70" x2="1813.20" y2="1854.70" stroke="#fff" stroke-width="1.4"/>
<text x="1827.60" y="1861.40" font-size="27" fill="#000">2.0</text>
<line x1="1775.80" y1="1894.00" x2="1783.20" y2="1894.00" stroke="#fff" stroke-width="1.4"/>
<line x1="1805.80" y1="1894.00" x2="1813.20" y2="1894.00" stroke="#fff" stroke-width="1.4"/>
<text x="1827.60" y="1899.80" font-size="27" fill="#000">1.5</text>
<text x="1774.80" y="1978.00" font-size="27" fill="#000" textLength="95.50" lengthAdjust="spacingAndGlyphs">Counts</text>
<rect x="1775.80" y="1996.50" width="37.40" height="227.00" fill="#f2f2f2"/>
<circle cx="1794.70" cy="2015.40" r="7.80" fill="#000"/>
<text x="1827.60" y="2022.10" font-size="27" fill="#000">10</text>
<circle cx="1794.70" cy="2053.10" r="10.70" fill="#000"/>
<text x="1827.60" y="2060.10" font-size="27" fill="#000">20</text>
<circle cx="1794.70" cy="2090.80" r="12.30" fill="#000"/>
<text x="1827.60" y="2097.80" font-size="27" fill="#000">30</text>
<circle cx="1794.70" cy="2128.90" r="13.90" fill="#000"/>
<text x="1827.60" y="2135.60" font-size="27" fill="#000">40</text>
<circle cx="1794.70" cy="2166.90" r="14.90" fill="#000"/>
<text x="1827.60" y="2173.60" font-size="27" fill="#000">50</text>
<circle cx="1794.70" cy="2205.00" r="16.00" fill="#000"/>
<text x="1827.60" y="2211.30" font-size="27" fill="#000">60</text>
</g>
</svg>
</body></html>
